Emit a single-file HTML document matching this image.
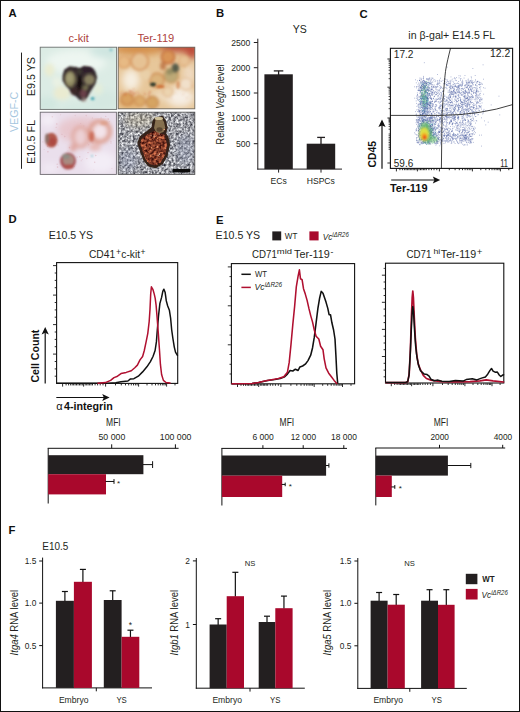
<!DOCTYPE html>
<html><head><meta charset="utf-8"><title>Figure</title>
<style>
html,body{margin:0;padding:0;background:#fff;}
body{width:520px;height:712px;overflow:hidden;}
svg{display:block;font-family:"Liberation Sans",sans-serif;}
</style></head><body>
<svg width="520" height="712" viewBox="0 0 520 712">
<defs>
<filter id="fC" x="-20%" y="-20%" width="140%" height="140%"><feGaussianBlur stdDeviation="0.8"/></filter>
<filter id="b05" x="-10%" y="-10%" width="120%" height="120%"><feGaussianBlur stdDeviation="0.5"/></filter>
<filter id="b07" x="-10%" y="-10%" width="120%" height="120%"><feGaussianBlur stdDeviation="0.7"/></filter>
<filter id="b1" x="-10%" y="-10%" width="120%" height="120%"><feGaussianBlur stdDeviation="1"/></filter>
<filter id="b12" x="-10%" y="-10%" width="120%" height="120%"><feGaussianBlur stdDeviation="1.1"/></filter>
<filter id="b18" x="-10%" y="-10%" width="120%" height="120%"><feGaussianBlur stdDeviation="1.7"/></filter>
<filter id="b15" x="-10%" y="-10%" width="120%" height="120%"><feGaussianBlur stdDeviation="1.5"/></filter>
<filter id="b2" x="-10%" y="-10%" width="120%" height="120%"><feGaussianBlur stdDeviation="2"/></filter>
<filter id="b3" x="-20%" y="-20%" width="140%" height="140%"><feGaussianBlur stdDeviation="3.5"/></filter>
<filter id="fN" x="0" y="0" width="100%" height="100%" color-interpolation-filters="sRGB">
<feTurbulence type="fractalNoise" baseFrequency="0.42" numOctaves="2" seed="4"/>
<feColorMatrix type="matrix" values="1.3 0 0 0 -0.03  1.3 0 0 0 -0.025  1.25 0 0 0 0.025  0 0 0 0 1"/>
<feGaussianBlur stdDeviation="0.35"/>
</filter>
<filter id="fR" x="0" y="0" width="100%" height="100%" color-interpolation-filters="sRGB">
<feTurbulence type="fractalNoise" baseFrequency="0.38" numOctaves="2" seed="12" result="t"/>
<feColorMatrix in="t" type="matrix" values="1.15 0 0 0 -0.06  0.75 0 0 0 -0.14  0.5 0 0 0 -0.09  0 0 0 0 1" result="c"/>
<feComposite in="c" in2="SourceGraphic" operator="in" result="m"/>
<feGaussianBlur in="m" stdDeviation="0.45"/>
</filter>
<clipPath id="c1"><rect x="40" y="47" width="76.8" height="62.6"/></clipPath>
<clipPath id="c2"><rect x="118" y="47" width="77" height="62"/></clipPath>
<clipPath id="c3"><rect x="40" y="112" width="76.6" height="62.6"/></clipPath>
<clipPath id="c4"><rect x="118" y="112" width="77" height="62.6"/></clipPath>
</defs>

<rect x="0" y="0" width="520" height="712" fill="#fff"/>
<g fill="#231f20">
<text x="8.6" y="17.4" font-size="11.3" font-weight="bold" fill="#111" >A</text>
<text x="215.9" y="17.4" font-size="11.3" font-weight="bold" fill="#111" >B</text>
<text x="359.6" y="17.5" font-size="11.3" font-weight="bold" fill="#111" >C</text>
<text x="8.6" y="223.0" font-size="11.3" font-weight="bold" fill="#111" >D</text>
<text x="216.0" y="223.5" font-size="11.3" font-weight="bold" fill="#111" >E</text>
<text x="8.6" y="534.0" font-size="11.3" font-weight="bold" fill="#111" >F</text>
<text x="68.6" y="42.4" font-size="10.5" fill="#ae4340" textLength="20.2" lengthAdjust="spacingAndGlyphs" >c-kit</text>
<text x="137.4" y="42.2" font-size="10.5" fill="#ae4340" textLength="36.9" lengthAdjust="spacingAndGlyphs" >Ter-119</text>
<text transform="translate(17.8 132.0) rotate(-90)" font-size="10.8" fill="#a5c6de" textLength="40.2" lengthAdjust="spacingAndGlyphs">VEGF-C</text>
<text transform="translate(35.0 96.2) rotate(-90)" font-size="10.8" textLength="39.2" lengthAdjust="spacingAndGlyphs">E9.5 YS</text>
<text transform="translate(35.0 163.9) rotate(-90)" font-size="10.8" textLength="44" lengthAdjust="spacingAndGlyphs">E10.5 FL</text>
<line x1="21.5" y1="52.6" x2="21.5" y2="168.8" stroke="#222" stroke-width="1" />
<g clip-path="url(#c1)"><rect x="39" y="46" width="79" height="65" fill="#dcece5"/><g filter="url(#b3)"><ellipse cx="76" cy="62" rx="30" ry="12" fill="#f0f7f2" opacity=".9"/><ellipse cx="104" cy="52" rx="14" ry="6" fill="#cbe4df" opacity=".8"/><ellipse cx="46" cy="104" rx="12" ry="7" fill="#cfe6de" opacity=".85"/><ellipse cx="105" cy="100" rx="14" ry="10" fill="#d3e8e1" opacity=".85"/><ellipse cx="80" cy="108" rx="20" ry="5" fill="#d3e8e1" opacity=".8"/></g><g filter="url(#b2)"><ellipse cx="49.5" cy="70" rx="5" ry="6.5" fill="#ecedcf" opacity=".9"/><ellipse cx="62" cy="93" rx="8.5" ry="7" fill="#ebebd0" opacity=".95"/><ellipse cx="57" cy="82" rx="5" ry="5" fill="#eef3e4" opacity=".8"/><ellipse cx="98" cy="89" rx="5" ry="6" fill="#e6edd8" opacity=".8"/></g><g filter="url(#b12)"><path d="M63.2 75.5 L64.8 70 L69.5 66.9 L75.9 67.5 L79.8 69 L83.7 66.7 L90 67.5 L94.8 71.6 L96.4 77.1 L94.8 83.4 L92.4 87.4 L90 91.3 L86.9 96.8 L83.7 100.2 L79.8 99.4 L75.1 94.7 L71.1 90.7 L66.4 85.2 L63.2 80.3 Z" fill="#33272a" stroke="#33272a" stroke-width="1.2" stroke-linejoin="round"/></g><g filter="url(#b18)"><ellipse cx="70.2" cy="79.0" rx="5.6" ry="8.2" fill="#8d875f"/><ellipse cx="69.4" cy="78" rx="3.4" ry="4.4" fill="#a39d74"/><ellipse cx="89.4" cy="79.6" rx="5.6" ry="5.4" fill="#888060"/><ellipse cx="87.6" cy="70.2" rx="6" ry="2.6" fill="#2e1c2a"/><ellipse cx="79.4" cy="71.6" rx="2.4" ry="2.6" fill="#3f3a30"/><ellipse cx="79.6" cy="84" rx="2.6" ry="9" fill="#120e0e"/><ellipse cx="74.6" cy="91" rx="4" ry="4" fill="#3a2528"/><ellipse cx="83.4" cy="93.6" rx="3.6" ry="4.4" fill="#6a4048"/><ellipse cx="85.6" cy="87.6" rx="3" ry="2.6" fill="#74704f"/><ellipse cx="84" cy="100" rx="2.6" ry="1.8" fill="#b8a49c" opacity=".8"/></g><g filter="url(#b1)"><ellipse cx="92.6" cy="98.6" rx="1.9" ry="1.7" fill="#43a3ae"/><ellipse cx="111" cy="50" rx="1.5" ry="1.2" fill="#7cc0c4"/></g></g>
<rect x="40.2" y="47.2" width="76.4" height="62.2" fill="none" stroke="#6e7270" stroke-width="0.9"/>
<g clip-path="url(#c2)"><rect x="117" y="46" width="80" height="65" fill="#e7c79a"/><g filter="url(#b3)"><ellipse cx="178" cy="46" rx="24" ry="6" fill="#b84a36"/><ellipse cx="192" cy="51" rx="7" ry="8" fill="#bd4c3a"/><ellipse cx="138" cy="49" rx="26" ry="6" fill="#d48e4a"/><ellipse cx="131" cy="80" rx="9" ry="11" fill="#f6eee0"/><ellipse cx="180" cy="97" rx="14" ry="10" fill="#f6eee4"/><ellipse cx="189" cy="74" rx="5" ry="10" fill="#f1dfca"/><ellipse cx="130" cy="102" rx="12" ry="6" fill="#dca662"/><ellipse cx="160" cy="96" rx="8" ry="5" fill="#efdcc0"/></g><g filter="url(#b15)"><circle cx="139.7" cy="61.4" r="8.6" fill="#e6c294" stroke="#d48e52" stroke-width="1.6"/><circle cx="124" cy="62" r="6" fill="#e7ba84" stroke="#d9975c" stroke-width="1.2"/><circle cx="168" cy="57" r="6.6" fill="#d99456" stroke="#c36c3a" stroke-width="1.6"/><circle cx="157" cy="80.3" r="7" fill="#dcb47c" stroke="#cc864a" stroke-width="1.4"/><circle cx="171.2" cy="75.6" r="7.2" fill="#bda976" stroke="#c4935a" stroke-width="1.1"/><circle cx="152.3" cy="102.4" r="6" fill="#d6a462" stroke="#c4844a" stroke-width="1.3"/><circle cx="146" cy="75" r="5" fill="#ead0aa" opacity=".9"/><circle cx="184" cy="61" r="5.4" fill="#e7c296" stroke="#d9a06a" stroke-width="1"/><circle cx="186" cy="84" r="6" fill="#f1e0ca" stroke="#e0b48a" stroke-width="1"/><circle cx="127" cy="99" r="6" fill="#d9a260" stroke="#c67f48" stroke-width="1.2"/><circle cx="140" cy="101" r="5" fill="#dcaa6a" stroke="#c98548" stroke-width="1.1"/><circle cx="168" cy="92" r="5" fill="#ecd4b0" stroke="#dcaa78" stroke-width="1"/><ellipse cx="175.4" cy="68" rx="3.8" ry="4.8" fill="#565b48"/><ellipse cx="169.6" cy="71.6" rx="3.2" ry="3.2" fill="#958d62"/><ellipse cx="163" cy="66" rx="3" ry="4" fill="#bd7444" opacity=".85"/></g><g filter="url(#b1)"><ellipse cx="153" cy="84.4" rx="3" ry="1.8" fill="#2b382c"/><ellipse cx="160.5" cy="86.4" rx="4" ry="1.5" fill="#cf7038"/><ellipse cx="178" cy="85" rx="1.5" ry="4" fill="#d38a58" opacity=".8"/><circle cx="133.6" cy="89.4" r="0.7" fill="#cf6238" opacity="0.63"/><circle cx="137.6" cy="92.2" r="0.6" fill="#cf6238" opacity="0.63"/><circle cx="138.9" cy="94.3" r="0.7" fill="#cf6238" opacity="0.44"/><circle cx="144.3" cy="93.1" r="0.8" fill="#cf6238" opacity="0.42"/><circle cx="149.5" cy="97.1" r="0.8" fill="#cf6238" opacity="0.47"/><circle cx="120.5" cy="93.3" r="0.8" fill="#cf6238" opacity="0.43"/><circle cx="125.7" cy="94.0" r="0.7" fill="#cf6238" opacity="0.60"/><circle cx="145.3" cy="94.5" r="0.8" fill="#cf6238" opacity="0.69"/><circle cx="135.0" cy="92.7" r="0.6" fill="#cf6238" opacity="0.85"/><circle cx="149.9" cy="91.9" r="0.9" fill="#cf6238" opacity="0.72"/><circle cx="129.5" cy="94.2" r="0.5" fill="#cf6238" opacity="0.74"/><circle cx="132.0" cy="95.8" r="0.9" fill="#cf6238" opacity="0.57"/><circle cx="148.7" cy="94.0" r="0.6" fill="#cf6238" opacity="0.81"/><circle cx="134.1" cy="93.9" r="1.0" fill="#cf6238" opacity="0.58"/><circle cx="122.2" cy="91.4" r="0.6" fill="#cf6238" opacity="0.44"/><circle cx="130.0" cy="91.2" r="1.0" fill="#cf6238" opacity="0.74"/><circle cx="123.5" cy="94.0" r="0.5" fill="#cf6238" opacity="0.76"/><circle cx="125.3" cy="95.0" r="0.8" fill="#cf6238" opacity="0.60"/><circle cx="125.7" cy="93.9" r="0.8" fill="#cf6238" opacity="0.45"/><circle cx="132.6" cy="92.8" r="0.6" fill="#cf6238" opacity="0.52"/><circle cx="149.1" cy="94.6" r="0.9" fill="#cf6238" opacity="0.49"/><circle cx="131.8" cy="92.2" r="0.9" fill="#cf6238" opacity="0.69"/><circle cx="172.3" cy="99.6" r="0.5" fill="#d78a5a" opacity="0.40"/><circle cx="187.8" cy="73.2" r="0.5" fill="#d78a5a" opacity="0.33"/><circle cx="172.1" cy="83.3" r="0.5" fill="#d78a5a" opacity="0.54"/><circle cx="178.5" cy="78.1" r="0.8" fill="#d78a5a" opacity="0.49"/><circle cx="183.2" cy="94.7" r="0.5" fill="#d78a5a" opacity="0.36"/><circle cx="190.9" cy="92.7" r="0.5" fill="#d78a5a" opacity="0.38"/><circle cx="187.0" cy="97.6" r="0.5" fill="#d78a5a" opacity="0.68"/><circle cx="190.3" cy="84.1" r="0.6" fill="#d78a5a" opacity="0.34"/><circle cx="170.9" cy="98.5" r="0.5" fill="#d78a5a" opacity="0.58"/><circle cx="175.9" cy="92.9" r="0.6" fill="#d78a5a" opacity="0.42"/><circle cx="174.0" cy="88.8" r="0.4" fill="#d78a5a" opacity="0.39"/><circle cx="182.9" cy="94.1" r="0.6" fill="#d78a5a" opacity="0.41"/><circle cx="191.1" cy="68.2" r="0.4" fill="#d78a5a" opacity="0.41"/><circle cx="180.3" cy="62.4" r="0.5" fill="#d78a5a" opacity="0.45"/><circle cx="183.2" cy="65.3" r="0.5" fill="#d78a5a" opacity="0.66"/><circle cx="192.6" cy="86.3" r="0.7" fill="#d78a5a" opacity="0.53"/><circle cx="173.2" cy="61.4" r="0.4" fill="#d78a5a" opacity="0.66"/><circle cx="186.1" cy="98.5" r="0.4" fill="#d78a5a" opacity="0.55"/></g></g>
<rect x="118.2" y="47.2" width="76.6" height="61.6" fill="none" stroke="#6f6a62" stroke-width="0.9"/>
<g clip-path="url(#c3)"><rect x="39" y="111" width="79" height="65" fill="#eadfec"/><g filter="url(#b3)"><ellipse cx="82" cy="130" rx="25" ry="13" fill="#e8c6cc" opacity=".95"/><ellipse cx="100" cy="162" rx="16" ry="11" fill="#f3edf6"/><ellipse cx="48" cy="120" rx="8" ry="6" fill="#f4eff7"/><ellipse cx="50" cy="168" rx="8" ry="5" fill="#f1eaf4"/></g><circle cx="77.2" cy="157.1" r="0.5" fill="#d9a5b0" opacity="0.55"/><circle cx="47.5" cy="146.2" r="0.7" fill="#d9a5b0" opacity="0.52"/><circle cx="95.8" cy="155.5" r="0.7" fill="#d9a5b0" opacity="0.52"/><circle cx="67.7" cy="154.4" r="0.8" fill="#d9a5b0" opacity="0.51"/><circle cx="72.5" cy="160.6" r="0.7" fill="#d9a5b0" opacity="0.42"/><circle cx="87.6" cy="136.6" r="0.6" fill="#d9a5b0" opacity="0.43"/><circle cx="47.9" cy="151.7" r="0.8" fill="#d9a5b0" opacity="0.51"/><circle cx="95.2" cy="136.9" r="0.7" fill="#d9a5b0" opacity="0.42"/><circle cx="74.2" cy="163.5" r="0.4" fill="#d9a5b0" opacity="0.48"/><circle cx="44.2" cy="149.5" r="0.6" fill="#d9a5b0" opacity="0.32"/><circle cx="93.0" cy="143.3" r="0.6" fill="#d9a5b0" opacity="0.53"/><circle cx="60.7" cy="114.7" r="0.5" fill="#d9a5b0" opacity="0.45"/><circle cx="56.8" cy="124.0" r="0.8" fill="#d9a5b0" opacity="0.45"/><circle cx="74.3" cy="166.6" r="0.5" fill="#d9a5b0" opacity="0.45"/><circle cx="56.5" cy="139.4" r="0.7" fill="#d9a5b0" opacity="0.52"/><circle cx="106.3" cy="136.7" r="0.6" fill="#d9a5b0" opacity="0.34"/><circle cx="51.9" cy="143.3" r="0.7" fill="#d9a5b0" opacity="0.50"/><circle cx="93.9" cy="170.1" r="0.5" fill="#d9a5b0" opacity="0.30"/><circle cx="74.9" cy="130.2" r="0.5" fill="#d9a5b0" opacity="0.37"/><circle cx="87.7" cy="143.1" r="0.5" fill="#d9a5b0" opacity="0.50"/><circle cx="113.7" cy="140.7" r="0.4" fill="#d9a5b0" opacity="0.26"/><circle cx="105.7" cy="116.4" r="0.7" fill="#d9a5b0" opacity="0.42"/><circle cx="64.6" cy="160.7" r="0.4" fill="#d9a5b0" opacity="0.29"/><circle cx="75.2" cy="115.5" r="0.7" fill="#d9a5b0" opacity="0.32"/><circle cx="52.3" cy="116.8" r="0.7" fill="#d9a5b0" opacity="0.38"/><circle cx="88.0" cy="152.6" r="0.7" fill="#d9a5b0" opacity="0.54"/><circle cx="92.0" cy="125.8" r="0.6" fill="#d9a5b0" opacity="0.30"/><circle cx="42.8" cy="141.9" r="0.7" fill="#d9a5b0" opacity="0.30"/><circle cx="61.9" cy="134.4" r="0.7" fill="#d9a5b0" opacity="0.41"/><circle cx="86.9" cy="158.6" r="0.6" fill="#d9a5b0" opacity="0.49"/><circle cx="108.2" cy="119.1" r="0.8" fill="#d9a5b0" opacity="0.47"/><circle cx="51.5" cy="140.8" r="0.7" fill="#d9a5b0" opacity="0.52"/><circle cx="69.5" cy="147.6" r="0.8" fill="#d9a5b0" opacity="0.49"/><circle cx="110.9" cy="141.4" r="0.7" fill="#d9a5b0" opacity="0.31"/><circle cx="94.7" cy="162.3" r="0.7" fill="#d9a5b0" opacity="0.47"/><circle cx="57.6" cy="167.1" r="0.8" fill="#d9a5b0" opacity="0.54"/><circle cx="81.2" cy="160.7" r="0.5" fill="#d9a5b0" opacity="0.52"/><circle cx="104.5" cy="134.6" r="0.4" fill="#d9a5b0" opacity="0.38"/><circle cx="82.2" cy="159.3" r="0.6" fill="#d9a5b0" opacity="0.26"/><circle cx="101.1" cy="117.8" r="0.7" fill="#d9a5b0" opacity="0.30"/><circle cx="66.5" cy="160.5" r="0.5" fill="#d9a5b0" opacity="0.29"/><circle cx="79.7" cy="156.7" r="0.7" fill="#d9a5b0" opacity="0.46"/><circle cx="111.0" cy="143.1" r="0.8" fill="#d9a5b0" opacity="0.28"/><circle cx="58.2" cy="145.1" r="0.5" fill="#d9a5b0" opacity="0.47"/><circle cx="88.6" cy="144.8" r="0.7" fill="#d9a5b0" opacity="0.42"/><circle cx="64.8" cy="136.5" r="0.7" fill="#d9a5b0" opacity="0.52"/><circle cx="57.2" cy="164.2" r="0.8" fill="#d9a5b0" opacity="0.41"/><circle cx="83.8" cy="125.9" r="0.6" fill="#d9a5b0" opacity="0.40"/><circle cx="86.2" cy="115.6" r="0.8" fill="#d9a5b0" opacity="0.40"/><circle cx="71.2" cy="161.3" r="0.6" fill="#d9a5b0" opacity="0.40"/><circle cx="92.4" cy="117.9" r="0.6" fill="#d9a5b0" opacity="0.37"/><circle cx="111.9" cy="168.5" r="0.5" fill="#d9a5b0" opacity="0.39"/><circle cx="51.3" cy="139.6" r="0.7" fill="#d9a5b0" opacity="0.52"/><circle cx="76.8" cy="132.7" r="0.5" fill="#d9a5b0" opacity="0.44"/><circle cx="109.5" cy="121.6" r="0.7" fill="#d9a5b0" opacity="0.26"/><circle cx="56.2" cy="127.4" r="0.7" fill="#d9a5b0" opacity="0.35"/><circle cx="67.9" cy="150.6" r="0.4" fill="#d9a5b0" opacity="0.47"/><circle cx="51.0" cy="144.1" r="0.5" fill="#d9a5b0" opacity="0.31"/><circle cx="80.7" cy="139.8" r="0.6" fill="#d9a5b0" opacity="0.37"/><circle cx="80.6" cy="123.4" r="0.5" fill="#d9a5b0" opacity="0.44"/><g filter="url(#b2)"><ellipse cx="100" cy="131.5" rx="9.6" ry="10" fill="#f3e4ea" stroke="#dc9a88" stroke-width="4.2"/><ellipse cx="80.5" cy="137" rx="7.5" ry="10" fill="#ecd0d4" stroke="#dfa49a" stroke-width="3.2"/><ellipse cx="95" cy="147" rx="6" ry="4" fill="#e7b8b2" opacity=".9"/><ellipse cx="73" cy="148" rx="3.4" ry="4" fill="#dea39c" opacity=".9"/></g><g filter="url(#b15)"><ellipse cx="91.6" cy="136.5" rx="2.4" ry="5.6" fill="#cb6a56"/><ellipse cx="104" cy="123" rx="4" ry="1.6" fill="#dc9a80"/></g><g filter="url(#b1)"><ellipse cx="51.4" cy="140.2" rx="6.2" ry="7.4" fill="#b25a4e"/><ellipse cx="47.0" cy="138.6" rx="2.0" ry="5" fill="#8f7068"/><ellipse cx="52.6" cy="141.6" rx="3.4" ry="4" fill="#ad4a42"/><ellipse cx="68" cy="161" rx="8" ry="8.6" fill="#a8545a"/><ellipse cx="68.4" cy="160" rx="5.6" ry="5.8" fill="#a98a80"/><ellipse cx="66" cy="156.4" rx="3.8" ry="2.6" fill="#918c84"/><ellipse cx="69" cy="166.4" rx="5" ry="2.2" fill="#b0524e"/><circle cx="92" cy="156" r="1" fill="#7cc0c8"/></g></g>
<rect x="40.2" y="112.2" width="76.2" height="62.2" fill="none" stroke="#6e6a70" stroke-width="0.9"/>
<g clip-path="url(#c4)"><rect x="117" y="111" width="80" height="65" fill="#9ea3a8"/><rect x="117" y="111" width="80" height="65" filter="url(#fN)"/><g filter="url(#b3)"><ellipse cx="140" cy="120" rx="16" ry="8" fill="#c9b98f" opacity=".35"/><ellipse cx="185" cy="150" rx="9" ry="16" fill="#8f9bb8" opacity=".35"/><ellipse cx="128" cy="160" rx="10" ry="12" fill="#8f9bb8" opacity=".3"/></g><g transform="translate(-1 0)"><g filter="url(#b07)"><path d="M155.4 118.7 L163.3 116.3 L166.5 121 L168 127.4 L166.5 133.7 L168.8 136.8 L170.4 144.7 L168 155.7 L163.3 163.6 L157 167.6 L149.9 166 L145.2 160.5 L142 152.6 L138.9 143.1 L141.2 136.8 L147.5 132.1 L153.1 127.4 L153.9 121.8 Z" fill="#35241a" stroke="#35241a" stroke-width="1.2" stroke-linejoin="round"/><path d="M156.5 120 L162.6 118 L165 122 L166.2 127.4 L164.5 132 L158 134 L155 128 Z" fill="#86704f"/><ellipse cx="159.8" cy="118.4" rx="4.2" ry="1.7" fill="#cdbf98"/><ellipse cx="160.5" cy="129.5" rx="3" ry="2.2" fill="#5a4630"/></g><path d="M148 134.4 L155.4 131 L161 133.4 L165.6 134.8 L168.4 144.7 L166.2 155 L161.8 162.4 L156.7 165.6 L150.8 164.2 L146.6 159.4 L143.4 151 L141 143.2 L143 138.2 Z" fill="#a2432a" filter="url(#fR)"/><g filter="url(#b05)"><circle cx="150.7" cy="142.5" r="0.7" fill="#e08050"/><circle cx="152.7" cy="147.8" r="0.8" fill="#e08050"/><circle cx="160.3" cy="134.0" r="0.5" fill="#f3d6bc"/><circle cx="158.6" cy="146.7" r="0.7" fill="#e9a27a"/><circle cx="157.9" cy="147.2" r="0.5" fill="#e08050"/><circle cx="160.6" cy="154.2" r="0.6" fill="#f3d6bc"/><circle cx="146.5" cy="146.6" r="0.5" fill="#e08050"/><circle cx="155.1" cy="148.6" r="0.5" fill="#e08050"/><circle cx="148.5" cy="161.6" r="0.5" fill="#e08050"/><circle cx="145.4" cy="149.5" r="0.6" fill="#e08050"/><circle cx="160.9" cy="137.5" r="0.6" fill="#e9a27a"/><circle cx="162.9" cy="152.4" r="0.6" fill="#e08050"/><circle cx="151.6" cy="150.6" r="0.4" fill="#e9a27a"/><circle cx="165.3" cy="129.5" r="0.8" fill="#e9a27a"/><circle cx="152.7" cy="147.9" r="0.7" fill="#e9a27a"/><circle cx="156.0" cy="142.9" r="0.6" fill="#e08050"/><circle cx="153.0" cy="154.4" r="0.5" fill="#e08050"/><circle cx="152.0" cy="135.3" r="0.5" fill="#f3d6bc"/><circle cx="151.8" cy="155.9" r="0.8" fill="#e08050"/><circle cx="159.2" cy="158.3" r="0.4" fill="#e9a27a"/><circle cx="158.5" cy="138.2" r="0.7" fill="#e08050"/><circle cx="162.7" cy="146.2" r="0.5" fill="#e08050"/><circle cx="166.3" cy="148.4" r="0.5" fill="#e9a27a"/><circle cx="155.1" cy="136.1" r="0.7" fill="#f3d6bc"/><circle cx="159.1" cy="155.3" r="0.6" fill="#f3d6bc"/><circle cx="156.6" cy="136.5" r="0.6" fill="#e08050"/></g></g><rect x="172.8" y="169.0" width="17.4" height="3.4" fill="#0c0c0c"/></g>
<rect x="118.2" y="112.2" width="76.6" height="62.2" fill="none" stroke="#555" stroke-width="0.9"/>
<text x="299.7" y="32.6" font-size="10.5" text-anchor="middle" >YS</text>
<line x1="257.8" y1="38.7" x2="257.8" y2="169.6" stroke="#231f20" stroke-width="1" />
<line x1="257.3" y1="169.1" x2="342" y2="169.1" stroke="#231f20" stroke-width="1" />
<line x1="253.8" y1="42.5" x2="257.8" y2="42.5" stroke="#231f20" stroke-width="1" />
<text x="250.3" y="45.6" font-size="8.6" text-anchor="end" >2500</text>
<line x1="253.8" y1="67.7" x2="257.8" y2="67.7" stroke="#231f20" stroke-width="1" />
<text x="250.3" y="70.8" font-size="8.6" text-anchor="end" >2000</text>
<line x1="253.8" y1="93.0" x2="257.8" y2="93.0" stroke="#231f20" stroke-width="1" />
<text x="250.3" y="96.1" font-size="8.6" text-anchor="end" >1500</text>
<line x1="253.8" y1="118.3" x2="257.8" y2="118.3" stroke="#231f20" stroke-width="1" />
<text x="250.3" y="121.39999999999999" font-size="8.6" text-anchor="end" >1000</text>
<line x1="253.8" y1="143.7" x2="257.8" y2="143.7" stroke="#231f20" stroke-width="1" />
<text x="250.3" y="146.79999999999998" font-size="8.6" text-anchor="end" >500</text>
<line x1="278.6" y1="169.1" x2="278.6" y2="172.6" stroke="#231f20" stroke-width="1" />
<line x1="321.0" y1="169.1" x2="321.0" y2="172.6" stroke="#231f20" stroke-width="1" />
<rect x="264.40" y="74.30" width="28.40" height="94.80" fill="#231f20" />
<line x1="278.6" y1="70.9" x2="278.6" y2="75" stroke="#231f20" stroke-width="1.3" />
<line x1="273.8" y1="70.9" x2="283.3" y2="70.9" stroke="#231f20" stroke-width="1.3" />
<rect x="306.70" y="143.70" width="28.50" height="25.40" fill="#231f20" />
<line x1="321.0" y1="137.4" x2="321.0" y2="144" stroke="#231f20" stroke-width="1.3" />
<line x1="317.2" y1="137.4" x2="325" y2="137.4" stroke="#231f20" stroke-width="1.3" />
<text x="278.7" y="183.6" font-size="8.6" text-anchor="middle" >ECs</text>
<text x="320.8" y="183.6" font-size="8.6" text-anchor="middle" >HSPCs</text>
<text transform="translate(224.3 144.4) rotate(-90)" font-size="10" textLength="80" lengthAdjust="spacingAndGlyphs">Relative <tspan font-style="italic">Vegfc</tspan> level</text>
<text x="408.3" y="38.6" font-size="10.5" textLength="86.7" lengthAdjust="spacingAndGlyphs" >in β-gal+ E14.5 FL</text>
<path d="M418.2 100.2h0.75M417.2 98.8h0.75M444.2 78.3h0.75M443.6 113.9h0.75M423.4 80.5h0.75M471.8 83.5h0.75M459.0 92.5h0.75M462.0 95.1h0.75M455.2 96.3h0.75M470.2 107.9h0.75M421.5 94.7h0.75M423.9 98.0h0.75M461.1 110.9h0.75M455.8 102.3h0.75M422.3 86.6h0.75M475.2 88.1h0.75M423.9 83.3h0.75M429.8 97.8h0.75M462.7 99.2h0.75M441.3 93.8h0.75M458.7 77.9h0.75M428.0 82.6h0.75M420.3 92.1h0.75M476.0 103.9h0.75M431.2 91.3h0.75M446.6 97.7h0.75M420.4 91.1h0.75M472.7 82.6h0.75M481.5 99.8h0.75M431.8 92.2h0.75M471.9 109.8h0.75M450.3 91.7h0.75M439.3 85.4h0.75M427.2 84.6h0.75M477.8 114.5h0.75M460.0 112.6h0.75M467.0 97.5h0.75M481.2 109.1h0.75M452.5 81.2h0.75M472.5 84.9h0.75M431.7 94.7h0.75M478.5 91.6h0.75M425.4 97.3h0.75M453.1 90.3h0.75M453.0 111.9h0.75M453.3 86.7h0.75M468.6 98.9h0.75M457.1 98.8h0.75M462.9 96.3h0.75M422.9 80.7h0.75M418.2 86.3h0.75M424.1 108.7h0.75M424.6 95.3h0.75M437.4 84.2h0.75M457.9 99.1h0.75M420.5 87.5h0.75M469.1 87.7h0.75M454.1 107.9h0.75M430.2 80.1h0.75M435.0 110.7h0.75M449.0 83.4h0.75M414.3 86.8h0.75M465.8 100.9h0.75M447.2 118.9h0.75M472.0 95.3h0.75M473.1 93.5h0.75M472.9 108.2h0.75M442.1 91.3h0.75M431.4 82.7h0.75M433.3 86.4h0.75M446.1 82.4h0.75M435.3 91.8h0.75M440.5 97.3h0.75M427.5 98.7h0.75M429.8 102.5h0.75M467.0 105.9h0.75M476.3 93.3h0.75M462.2 107.6h0.75M420.6 114.3h0.75M458.2 104.4h0.75M466.9 98.6h0.75M465.5 84.6h0.75M457.4 105.2h0.75M423.6 86.9h0.75M434.9 101.7h0.75M462.8 106.8h0.75M450.2 96.8h0.75M421.5 117.0h0.75M445.4 87.6h0.75M423.2 99.6h0.75M422.5 113.6h0.75M476.9 108.1h0.75M477.6 97.8h0.75M434.7 81.6h0.75M435.8 114.5h0.75M467.1 114.4h0.75M433.9 92.5h0.75M443.8 87.9h0.75M420.3 114.2h0.75M480.4 86.7h0.75M449.8 83.9h0.75M452.5 108.8h0.75M465.7 96.2h0.75M459.4 88.5h0.75M434.7 101.2h0.75M425.0 82.6h0.75M478.2 98.4h0.75M423.1 84.0h0.75M467.0 94.4h0.75M450.7 92.7h0.75M422.1 98.7h0.75M475.1 85.2h0.75M430.9 93.8h0.75M477.5 97.2h0.75M430.9 80.1h0.75M465.0 105.4h0.75M445.9 100.9h0.75M459.5 89.3h0.75M455.0 93.2h0.75M476.6 97.3h0.75M461.6 94.7h0.75M462.1 84.3h0.75M466.2 98.7h0.75M426.5 85.5h0.75M423.2 77.4h0.75M440.3 92.6h0.75M472.2 113.6h0.75M479.2 84.1h0.75M471.5 111.0h0.75M457.4 87.3h0.75M435.8 88.0h0.75M440.8 86.8h0.75M468.6 103.5h0.75M430.8 78.0h0.75M464.1 96.0h0.75M421.7 114.5h0.75M427.3 86.6h0.75M475.4 96.1h0.75M455.9 104.1h0.75M439.5 81.6h0.75M461.8 83.7h0.75M427.6 112.4h0.75M452.6 105.0h0.75M424.8 107.7h0.75M435.5 101.6h0.75M443.5 113.6h0.75M476.6 96.7h0.75M439.7 98.7h0.75M420.8 98.1h0.75M424.5 111.9h0.75M426.2 85.3h0.75M450.3 93.0h0.75M415.7 114.4h0.75M456.2 100.9h0.75M443.7 106.0h0.75M469.2 96.5h0.75M447.1 80.0h0.75M424.9 112.1h0.75M424.4 117.1h0.75M471.7 81.7h0.75M479.2 84.8h0.75M449.4 90.0h0.75M461.9 117.1h0.75M441.4 112.5h0.75M468.1 95.8h0.75M455.2 106.2h0.75M457.4 95.3h0.75M477.5 81.2h0.75M460.0 76.0h0.75M429.1 102.4h0.75M427.7 104.3h0.75M475.7 111.8h0.75M453.5 91.5h0.75M430.9 117.5h0.75M451.3 94.1h0.75M417.2 111.6h0.75M427.4 103.6h0.75M459.2 113.2h0.75M435.3 89.1h0.75M446.5 109.9h0.75M429.3 79.9h0.75M432.2 101.0h0.75M469.8 99.6h0.75M458.4 107.6h0.75M463.2 115.3h0.75M465.2 101.8h0.75M428.3 104.3h0.75M478.6 81.8h0.75M423.2 76.4h0.75M462.9 104.8h0.75M427.8 80.3h0.75M474.0 113.2h0.75M472.4 104.7h0.75M427.8 90.0h0.75M464.5 92.3h0.75M444.4 111.3h0.75M463.7 100.3h0.75M467.9 121.0h0.75M426.3 98.2h0.75M469.7 104.5h0.75M419.2 116.8h0.75M429.8 96.7h0.75M467.3 110.4h0.75M438.1 90.4h0.75M425.2 95.6h0.75M476.7 86.2h0.75M424.1 82.3h0.75M436.5 99.5h0.75M470.2 109.5h0.75M427.1 105.0h0.75M427.9 93.3h0.75M449.0 104.7h0.75M423.2 103.4h0.75M454.3 110.2h0.75M461.9 105.2h0.75M435.5 104.5h0.75M458.3 86.8h0.75M445.8 104.2h0.75M460.1 111.6h0.75M480.7 99.4h0.75M428.1 107.2h0.75M443.3 107.8h0.75M480.7 99.8h0.75M470.7 93.4h0.75M422.3 111.5h0.75M458.7 97.1h0.75M446.7 88.8h0.75M422.0 114.2h0.75M474.2 87.6h0.75M431.3 95.0h0.75M430.6 89.2h0.75M458.6 75.7h0.75M420.3 81.7h0.75M468.9 91.3h0.75M478.1 112.2h0.75M451.2 109.9h0.75M476.6 101.1h0.75M429.9 81.5h0.75M417.2 97.0h0.75M448.4 98.4h0.75M473.5 92.6h0.75M439.4 97.3h0.75M468.5 84.9h0.75M434.1 113.9h0.75M449.3 87.8h0.75M436.8 89.9h0.75M458.1 107.7h0.75M462.0 85.0h0.75M446.0 110.8h0.75M478.8 105.8h0.75M472.2 112.0h0.75M431.6 89.2h0.75M428.3 82.1h0.75M430.4 109.5h0.75M474.6 109.3h0.75M458.3 108.3h0.75M464.6 75.5h0.75M459.9 113.4h0.75M435.4 109.3h0.75M475.0 97.9h0.75M439.5 102.0h0.75M463.6 113.9h0.75M456.3 89.5h0.75M446.5 84.7h0.75M467.1 112.2h0.75M476.7 99.5h0.75M455.4 83.9h0.75M426.0 108.0h0.75M453.6 93.9h0.75M469.7 82.3h0.75M437.8 99.4h0.75M448.0 101.7h0.75M426.0 78.9h0.75M481.2 117.8h0.75M456.1 93.7h0.75M441.3 96.1h0.75M423.4 110.5h0.75M461.7 89.0h0.75M467.6 80.0h0.75M425.1 86.2h0.75M477.0 81.6h0.75M458.2 96.3h0.75M472.3 97.4h0.75M423.3 85.4h0.75M464.4 101.0h0.75M475.7 87.5h0.75M424.2 87.7h0.75M437.1 82.9h0.75M435.9 117.4h0.75M461.1 84.9h0.75M433.6 87.1h0.75M434.1 121.0h0.75M471.1 91.0h0.75M428.7 101.9h0.75M426.0 111.2h0.75M427.2 78.7h0.75M456.8 98.3h0.75M427.8 103.8h0.75M471.4 102.4h0.75M417.7 109.4h0.75M447.3 116.0h0.75M426.4 114.1h0.75M424.8 92.4h0.75M471.8 115.7h0.75M464.2 92.9h0.75M448.6 99.1h0.75M429.1 83.6h0.75M431.0 113.4h0.75M419.9 107.9h0.75M450.6 108.0h0.75M475.6 108.7h0.75M421.9 98.2h0.75M422.9 102.8h0.75M423.6 101.9h0.75M424.8 113.8h0.75M468.9 90.9h0.75M443.4 104.7h0.75M432.1 106.9h0.75M431.0 99.5h0.75M446.6 100.1h0.75M421.9 81.2h0.75M442.3 88.6h0.75M456.9 101.8h0.75M427.5 108.4h0.75M452.5 103.8h0.75M435.4 86.4h0.75M449.9 93.0h0.75M430.2 101.2h0.75M468.6 82.5h0.75M475.7 95.7h0.75M466.2 82.3h0.75M474.2 113.6h0.75M466.2 109.9h0.75M456.7 92.8h0.75M446.0 109.0h0.75M441.1 101.1h0.75M449.0 95.9h0.75M472.5 99.1h0.75M424.3 88.6h0.75M449.4 83.8h0.75M458.4 103.3h0.75M442.6 112.0h0.75M427.2 98.4h0.75M432.2 105.4h0.75M421.7 82.4h0.75M420.7 79.7h0.75M450.6 113.7h0.75M471.1 77.9h0.75M468.5 90.2h0.75M438.5 83.0h0.75M438.1 96.1h0.75M471.7 89.3h0.75M447.9 112.3h0.75M425.5 91.8h0.75M421.3 100.1h0.75M472.5 91.5h0.75M426.8 88.3h0.75M424.2 108.2h0.75M432.4 114.2h0.75M424.5 91.6h0.75M428.3 116.0h0.75M449.9 100.5h0.75M468.6 93.1h0.75M453.9 89.6h0.75M436.1 106.1h0.75M453.5 92.0h0.75M422.5 88.0h0.75M461.9 106.2h0.75M430.9 114.8h0.75M458.3 83.5h0.75M427.3 89.2h0.75M425.9 114.5h0.75M464.6 87.0h0.75M462.3 91.4h0.75M473.1 111.5h0.75M416.4 86.5h0.75M466.2 114.0h0.75M422.2 110.8h0.75M463.6 112.9h0.75M452.2 86.7h0.75M438.8 94.3h0.75M461.3 86.2h0.75M423.2 101.5h0.75M425.2 106.3h0.75M421.2 88.6h0.75M427.2 108.0h0.75M421.1 90.3h0.75M439.1 82.9h0.75M444.3 83.9h0.75M431.1 86.6h0.75M436.1 92.3h0.75M439.6 114.1h0.75M424.3 89.1h0.75M418.8 107.3h0.75M474.6 112.0h0.75M433.4 106.1h0.75M443.3 90.9h0.75M424.8 88.9h0.75M453.6 91.4h0.75M419.1 90.2h0.75M456.9 89.0h0.75M439.8 102.3h0.75M451.2 101.5h0.75M431.1 98.0h0.75M429.3 101.9h0.75M449.9 102.7h0.75M453.5 111.4h0.75M428.3 89.1h0.75M472.4 80.8h0.75M416.1 103.4h0.75M452.5 112.7h0.75M479.6 106.7h0.75M426.9 96.0h0.75M454.9 80.3h0.75M421.0 112.6h0.75M452.9 88.6h0.75M423.9 98.6h0.75M471.9 106.9h0.75M418.5 90.5h0.75M477.4 102.7h0.75M425.2 92.0h0.75M454.5 93.2h0.75M432.6 87.8h0.75M431.9 101.7h0.75M468.7 104.8h0.75M449.6 104.9h0.75M452.7 94.1h0.75M447.7 92.3h0.75M429.9 91.4h0.75M445.1 101.7h0.75M435.2 109.2h0.75M455.0 78.8h0.75M432.9 87.1h0.75M424.8 87.6h0.75M428.7 93.8h0.75M476.0 91.0h0.75M426.5 100.2h0.75M442.2 106.9h0.75M417.1 94.5h0.75M458.1 90.7h0.75M456.0 87.1h0.75M465.1 90.5h0.75M424.2 81.7h0.75M419.5 113.3h0.75M451.8 102.7h0.75M460.3 103.3h0.75M466.4 87.1h0.75M468.0 111.5h0.75M460.2 111.4h0.75M423.8 83.3h0.75M479.3 82.6h0.75M448.9 104.9h0.75M470.6 96.6h0.75M417.7 105.3h0.75M458.2 85.5h0.75M431.9 95.4h0.75M427.6 110.7h0.75M472.2 88.3h0.75M448.0 116.9h0.75M462.2 103.1h0.75M454.7 116.5h0.75M421.0 120.8h0.75M420.0 82.9h0.75M429.7 95.2h0.75M422.8 95.1h0.75M465.7 87.8h0.75M432.1 78.2h0.75M449.6 94.2h0.75M460.0 100.6h0.75M464.7 93.8h0.75M440.7 94.3h0.75M440.1 86.3h0.75M436.4 105.4h0.75M435.7 120.7h0.75M466.7 115.1h0.75M458.3 109.9h0.75M464.3 93.5h0.75M457.1 106.8h0.75M458.3 100.5h0.75M447.1 108.9h0.75M447.3 85.4h0.75M451.0 113.2h0.75M425.4 113.6h0.75M472.9 113.4h0.75M424.1 86.8h0.75M438.7 112.8h0.75M423.8 107.0h0.75M450.5 86.2h0.75M437.5 92.9h0.75M427.5 101.8h0.75M425.8 108.8h0.75M427.5 94.9h0.75M457.5 92.5h0.75M471.4 91.6h0.75M460.9 90.5h0.75M467.4 92.8h0.75M446.3 114.5h0.75M461.3 109.8h0.75M468.4 111.2h0.75M464.2 97.7h0.75M462.8 94.6h0.75M423.5 90.7h0.75M431.9 89.7h0.75M474.8 101.1h0.75M431.5 84.5h0.75M451.7 92.6h0.75M448.2 102.4h0.75M451.4 94.2h0.75M445.0 116.3h0.75M444.2 105.0h0.75M470.7 98.4h0.75M461.6 88.9h0.75M427.9 79.7h0.75M462.4 82.3h0.75M435.9 101.3h0.75M423.9 112.6h0.75M459.1 85.5h0.75M419.7 96.8h0.75M443.9 106.9h0.75M448.8 118.7h0.75M451.9 79.2h0.75M429.4 118.5h0.75M481.0 105.9h0.75M437.0 96.1h0.75M455.9 96.7h0.75M422.5 102.2h0.75M440.0 106.2h0.75M421.4 98.3h0.75M421.5 97.0h0.75M451.6 98.8h0.75M427.2 94.0h0.75M422.2 86.3h0.75M449.1 116.9h0.75M454.1 107.4h0.75M467.0 82.2h0.75M434.0 116.9h0.75M454.7 86.0h0.75M469.4 108.4h0.75M446.2 118.3h0.75M461.9 82.1h0.75M423.1 84.3h0.75M470.0 97.5h0.75M458.8 84.4h0.75M473.9 112.0h0.75M464.7 91.4h0.75M470.8 102.7h0.75M429.7 84.3h0.75M462.3 108.4h0.75M469.4 112.3h0.75M443.1 103.4h0.75M437.2 85.0h0.75M473.8 104.1h0.75M419.3 87.7h0.75M421.7 107.1h0.75M472.3 83.7h0.75M472.8 82.6h0.75M445.7 113.0h0.75M475.1 99.2h0.75M418.5 104.3h0.75M458.5 92.7h0.75M473.1 107.1h0.75M465.5 110.2h0.75M466.8 105.2h0.75M467.9 88.7h0.75M471.0 106.8h0.75M472.5 112.3h0.75M423.1 99.3h0.75M424.7 109.7h0.75M427.2 90.1h0.75M420.8 87.2h0.75M467.2 87.9h0.75M479.1 99.9h0.75M458.4 87.2h0.75M467.3 106.9h0.75M471.2 80.2h0.75M462.8 111.4h0.75M441.3 112.9h0.75M426.4 116.0h0.75M422.6 90.9h0.75M461.1 102.2h0.75M469.8 114.4h0.75M461.4 110.4h0.75M422.5 108.1h0.75M457.1 87.9h0.75M456.4 113.7h0.75M428.3 85.5h0.75M438.9 107.9h0.75M473.4 90.3h0.75M458.3 81.5h0.75M421.0 85.6h0.75M428.7 112.3h0.75M473.4 113.0h0.75M415.2 111.6h0.75M449.3 94.9h0.75M458.4 109.1h0.75M422.6 96.3h0.75M464.0 96.4h0.75M426.7 93.9h0.75M427.0 109.6h0.75M427.2 87.5h0.75M458.4 87.4h0.75M445.8 79.8h0.75M424.1 111.5h0.75M447.3 113.6h0.75M420.8 101.5h0.75M428.1 86.8h0.75M455.1 92.8h0.75M472.8 111.9h0.75M422.1 84.4h0.75M455.2 104.9h0.75M461.4 108.5h0.75M459.8 107.5h0.75M470.8 76.8h0.75M479.2 87.4h0.75M471.1 82.7h0.75M453.0 113.6h0.75M433.9 93.7h0.75M471.4 96.5h0.75M459.8 84.7h0.75M474.2 114.9h0.75M423.6 103.5h0.75M421.2 107.5h0.75M450.4 96.4h0.75M473.3 108.7h0.75M462.0 114.9h0.75M444.8 108.2h0.75M434.6 91.4h0.75M432.7 86.7h0.75M435.6 104.5h0.75M451.2 105.5h0.75M462.5 107.5h0.75M467.2 86.7h0.75M455.6 105.8h0.75M463.0 89.3h0.75M423.2 80.3h0.75M468.4 83.4h0.75M445.0 109.2h0.75M455.3 106.1h0.75M429.1 78.0h0.75M439.2 109.0h0.75M469.7 86.8h0.75M450.7 80.2h0.75M470.3 88.4h0.75M468.1 85.5h0.75M428.8 93.1h0.75M421.3 96.6h0.75M425.5 85.8h0.75M450.8 86.3h0.75M475.3 85.0h0.75M447.7 83.5h0.75M460.0 99.2h0.75M446.9 109.8h0.75M429.9 98.5h0.75M439.5 117.4h0.75M418.9 85.2h0.75M444.6 81.6h0.75M441.9 106.9h0.75M436.2 94.1h0.75M424.7 113.9h0.75M456.7 87.1h0.75M453.5 108.5h0.75M423.7 81.4h0.75M454.9 116.7h0.75M429.9 82.9h0.75M460.0 99.1h0.75M430.5 105.9h0.75M454.1 83.5h0.75M431.4 86.1h0.75M450.7 106.8h0.75M466.4 104.3h0.75M461.4 112.6h0.75M469.6 85.9h0.75M465.9 91.9h0.75M468.2 81.0h0.75M428.5 87.5h0.75M422.8 94.1h0.75M454.5 91.7h0.75M444.5 83.2h0.75M473.2 105.2h0.75M468.2 89.1h0.75M476.0 102.7h0.75M432.6 78.3h0.75M425.5 107.7h0.75M437.1 99.5h0.75M443.1 97.5h0.75M419.6 104.3h0.75M437.6 98.1h0.75M479.9 101.3h0.75M424.1 107.6h0.75M426.8 108.3h0.75M470.0 85.9h0.75M460.8 101.6h0.75M426.9 102.4h0.75M458.6 86.3h0.75M457.3 117.4h0.75M435.4 106.1h0.75M424.3 85.6h0.75M470.2 89.6h0.75M446.2 84.3h0.75M449.5 99.5h0.75M464.6 99.9h0.75M429.0 90.0h0.75M464.3 111.2h0.75M458.9 88.1h0.75M446.5 104.1h0.75M419.8 120.3h0.75M433.7 111.1h0.75M420.7 78.3h0.75M451.3 114.2h0.75M425.5 111.0h0.75M437.3 80.8h0.75M465.8 81.1h0.75M437.4 86.7h0.75M474.5 90.1h0.75M466.6 91.1h0.75M432.2 92.2h0.75M438.4 92.8h0.75M471.5 86.9h0.75M440.4 114.5h0.75M466.6 106.8h0.75M469.3 115.9h0.75M437.5 86.7h0.75M429.4 78.3h0.75M466.4 84.3h0.75M420.6 102.6h0.75M450.3 97.7h0.75M476.4 106.3h0.75M464.7 95.2h0.75M426.5 100.7h0.75M467.7 115.8h0.75M479.5 84.7h0.75M470.8 94.9h0.75M431.7 88.0h0.75M450.0 97.0h0.75M466.9 86.1h0.75M450.2 83.2h0.75M478.1 84.5h0.75M464.9 110.2h0.75M444.9 79.1h0.75M470.4 106.8h0.75M437.2 111.0h0.75M427.3 82.6h0.75M457.5 89.2h0.75M428.7 79.0h0.75M435.7 98.7h0.75M427.3 102.8h0.75M465.4 91.7h0.75M479.3 93.9h0.75M455.5 106.8h0.75M447.5 98.3h0.75M477.5 91.4h0.75M469.6 87.2h0.75M451.8 88.0h0.75M471.0 81.9h0.75M452.7 118.3h0.75M479.6 95.4h0.75M466.9 115.4h0.75M417.0 80.8h0.75M464.0 104.6h0.75M424.7 83.5h0.75M426.0 82.2h0.75M469.9 102.1h0.75M476.5 103.2h0.75M478.9 101.4h0.75M425.6 93.0h0.75M435.8 92.7h0.75M435.9 110.6h0.75M423.7 110.8h0.75M478.3 102.6h0.75M420.4 88.0h0.75M420.0 98.2h0.75M428.4 105.8h0.75M471.2 110.7h0.75M423.4 106.9h0.75M422.4 104.9h0.75M430.9 113.3h0.75M422.8 113.3h0.75M426.4 98.5h0.75M451.4 115.2h0.75M462.1 110.0h0.75M452.9 94.0h0.75M422.9 97.1h0.75M432.3 92.3h0.75M467.9 102.7h0.75M421.9 88.4h0.75M438.9 103.4h0.75M427.8 98.9h0.75M432.5 82.0h0.75M424.6 109.1h0.75M423.2 82.4h0.75M455.4 112.6h0.75M449.2 102.0h0.75M442.7 100.5h0.75M417.2 94.9h0.75M456.5 83.5h0.75M418.9 90.6h0.75M459.7 94.9h0.75M424.1 89.4h0.75M478.5 108.2h0.75M474.0 105.5h0.75M464.6 99.0h0.75M461.2 95.4h0.75M419.6 117.4h0.75M429.0 93.7h0.75M429.0 93.8h0.75M444.0 82.3h0.75M420.2 98.6h0.75M427.0 106.5h0.75M471.6 97.3h0.75M421.1 90.1h0.75M455.0 109.0h0.75M463.1 92.2h0.75M475.3 104.9h0.75M475.8 108.7h0.75M440.4 106.6h0.75M453.7 84.2h0.75M447.8 90.9h0.75M449.8 102.6h0.75M433.0 98.6h0.75M443.2 106.2h0.75M463.7 111.7h0.75M440.0 88.6h0.75M464.0 113.5h0.75M465.6 85.0h0.75M438.8 89.4h0.75M467.3 109.5h0.75M429.8 111.9h0.75M461.7 104.9h0.75M429.5 90.8h0.75M470.3 109.6h0.75M439.6 87.7h0.75M475.5 95.6h0.75M424.4 88.2h0.75M477.1 95.1h0.75M468.6 92.6h0.75M478.0 95.7h0.75M455.9 87.0h0.75M441.1 92.8h0.75M439.8 110.8h0.75M461.9 104.4h0.75M454.4 90.1h0.75M449.7 80.8h0.75M435.4 94.6h0.75M430.3 115.3h0.75M455.3 92.7h0.75M470.3 113.1h0.75M416.9 92.9h0.75M420.5 87.2h0.75M446.3 85.0h0.75M444.1 98.9h0.75M425.2 99.0h0.75M439.8 115.5h0.75M476.2 91.8h0.75M457.3 101.5h0.75M421.2 105.9h0.75M439.0 93.9h0.75M460.7 106.2h0.75M445.9 114.1h0.75M448.8 97.2h0.75M425.5 105.3h0.75M431.6 105.3h0.75M457.1 83.1h0.75M435.6 100.9h0.75M447.8 104.0h0.75M435.2 106.9h0.75M457.4 111.7h0.75M453.8 110.4h0.75M425.8 113.9h0.75M472.8 107.4h0.75M421.7 82.5h0.75M471.4 109.4h0.75M457.1 115.5h0.75M463.4 96.8h0.75M430.8 107.7h0.75M439.5 99.0h0.75M476.1 91.8h0.75M442.2 99.7h0.75M479.1 97.2h0.75M438.4 113.2h0.75M432.9 104.9h0.75M440.1 102.2h0.75M431.3 114.0h0.75M456.3 104.4h0.75M449.7 82.0h0.75M475.4 93.2h0.75M426.2 102.1h0.75M447.2 100.3h0.75M449.3 114.3h0.75M480.0 84.4h0.75M468.3 101.8h0.75M428.7 111.7h0.75M465.3 85.7h0.75M459.7 92.5h0.75M424.0 100.9h0.75M416.6 86.7h0.75M431.0 89.1h0.75M421.2 85.5h0.75M480.0 93.4h0.75M472.8 97.4h0.75M460.6 101.3h0.75M454.4 86.5h0.75M476.4 121.0h0.75M446.8 81.2h0.75M464.3 109.2h0.75M459.3 105.9h0.75M456.0 90.8h0.75M461.3 88.5h0.75M421.3 109.4h0.75M439.5 83.4h0.75M449.1 94.5h0.75M440.6 95.5h0.75M433.1 80.1h0.75M445.3 116.1h0.75M444.7 110.9h0.75M424.0 99.4h0.75M453.4 94.6h0.75M455.2 108.4h0.75M422.1 97.2h0.75M423.9 85.5h0.75M419.5 84.1h0.75M422.9 113.6h0.75M416.4 109.9h0.75M475.2 79.7h0.75M462.9 102.6h0.75M433.0 98.4h0.75M419.2 112.7h0.75M449.3 108.8h0.75M459.6 113.1h0.75M418.7 115.6h0.75M431.7 104.0h0.75M446.3 108.5h0.75M459.8 107.3h0.75M466.3 105.6h0.75M454.0 99.2h0.75M432.3 112.0h0.75M425.3 82.3h0.75M428.3 90.8h0.75M424.1 108.7h0.75M434.8 87.6h0.75M464.1 102.4h0.75M422.0 114.9h0.75M464.2 113.1h0.75M452.6 113.2h0.75M451.9 87.5h0.75M426.8 108.3h0.75M469.1 104.5h0.75M420.4 90.7h0.75M446.2 110.7h0.75M420.9 104.1h0.75M422.2 81.4h0.75M418.5 96.3h0.75M455.2 86.2h0.75M449.4 90.2h0.75M431.8 104.2h0.75M452.0 92.7h0.75M470.6 103.1h0.75M472.5 117.1h0.75M454.5 92.8h0.75M467.8 104.0h0.75M447.4 104.8h0.75M463.8 119.5h0.75M436.1 116.2h0.75M470.6 86.2h0.75M429.3 108.1h0.75M456.6 90.3h0.75M430.8 99.3h0.75M437.9 112.8h0.75M417.6 90.5h0.75M422.6 89.3h0.75M471.3 85.8h0.75M475.4 113.8h0.75M468.2 111.3h0.75M453.8 88.0h0.75M468.2 89.4h0.75M433.3 111.3h0.75M471.7 82.5h0.75M438.1 116.4h0.75M418.3 110.4h0.75M460.8 116.1h0.75M469.5 100.0h0.75M422.2 93.1h0.75M433.3 109.7h0.75M459.0 97.6h0.75M453.8 115.5h0.75M468.3 82.4h0.75M421.9 104.9h0.75M479.5 106.0h0.75M450.1 88.5h0.75M439.9 113.9h0.75M467.2 97.0h0.75M427.2 112.6h0.75M439.3 80.0h0.75M450.4 102.4h0.75M455.6 100.5h0.75M431.0 89.8h0.75M430.0 111.7h0.75M451.7 100.0h0.75M460.1 85.5h0.75M458.0 88.1h0.75M429.8 83.7h0.75M460.1 93.5h0.75M451.3 105.0h0.75M469.3 108.8h0.75M429.7 108.1h0.75M465.1 91.4h0.75M440.3 121.4h0.75M441.0 111.2h0.75M428.0 111.9h0.75M467.4 98.0h0.75M468.5 85.3h0.75M468.0 104.9h0.75M465.8 106.4h0.75M427.2 89.6h0.75M419.9 91.4h0.75M421.4 110.3h0.75M419.9 86.8h0.75M436.1 84.3h0.75M432.6 85.0h0.75M439.4 80.6h0.75M431.0 102.2h0.75M470.0 101.4h0.75M426.8 104.4h0.75M416.0 87.9h0.75M423.7 99.8h0.75M475.0 80.9h0.75M467.0 103.2h0.75M465.1 89.9h0.75M442.6 110.3h0.75M447.0 113.2h0.75M465.4 103.5h0.75M471.7 87.9h0.75M479.5 87.7h0.75M460.9 102.4h0.75M442.8 119.5h0.75M448.5 98.1h0.75M449.9 112.7h0.75M476.1 94.7h0.75M421.9 94.7h0.75M463.2 109.3h0.75M434.7 109.3h0.75M425.1 91.2h0.75M459.7 105.8h0.75M448.6 110.6h0.75M422.3 95.0h0.75M444.1 101.4h0.75M441.2 95.1h0.75M483.0 79.2h0.75M464.9 93.6h0.75M455.6 92.2h0.75M433.6 96.9h0.75M470.4 97.1h0.75M465.6 80.7h0.75M437.7 101.9h0.75M444.7 113.2h0.75M421.0 94.3h0.75M458.9 91.1h0.75M421.9 101.3h0.75M450.1 87.0h0.75M432.8 111.8h0.75M424.9 84.0h0.75M428.4 90.6h0.75M467.7 94.0h0.75M440.5 87.8h0.75M446.2 99.8h0.75M425.7 90.8h0.75M428.2 113.7h0.75M436.5 86.7h0.75M460.1 80.3h0.75M424.8 87.1h0.75M472.2 102.5h0.75M431.4 114.8h0.75M434.4 79.7h0.75M462.1 88.3h0.75M457.1 91.4h0.75M424.9 104.6h0.75M421.0 83.2h0.75M450.0 97.4h0.75M416.0 114.1h0.75M469.3 81.1h0.75M474.3 107.4h0.75M462.4 112.3h0.75M424.2 106.0h0.75M422.6 82.7h0.75M422.1 93.1h0.75M451.6 112.0h0.75M421.5 87.0h0.75M476.0 90.1h0.75M462.9 92.5h0.75M424.1 114.1h0.75M471.5 91.0h0.75M438.4 107.6h0.75M475.0 110.7h0.75M470.7 89.3h0.75M427.0 120.3h0.75M471.3 99.9h0.75M451.8 94.3h0.75M419.5 118.2h0.75M423.0 106.6h0.75M469.1 82.2h0.75M468.5 82.3h0.75M477.9 110.1h0.75M469.3 107.0h0.75M451.1 120.1h0.75M477.6 108.6h0.75M474.2 82.0h0.75M464.4 113.7h0.75M436.2 87.3h0.75M453.2 95.9h0.75M417.1 99.8h0.75M461.5 101.4h0.75M464.4 97.1h0.75M448.2 83.3h0.75M455.4 113.8h0.75M432.0 101.4h0.75M431.3 92.3h0.75M430.0 108.3h0.75M419.8 118.2h0.75M463.2 91.4h0.75M479.7 100.0h0.75M461.2 114.6h0.75M453.2 114.9h0.75M444.6 83.7h0.75M455.6 95.2h0.75M419.7 108.5h0.75M476.5 83.2h0.75M467.3 103.1h0.75M418.4 107.6h0.75M436.4 89.8h0.75M424.7 93.9h0.75M436.3 112.4h0.75M420.3 104.5h0.75M461.2 92.4h0.75M457.1 110.6h0.75M443.5 83.7h0.75M453.1 90.4h0.75M458.4 109.7h0.75M475.4 84.6h0.75M479.9 106.5h0.75M427.6 115.2h0.75M476.5 98.5h0.75M420.9 111.6h0.75M450.7 94.8h0.75M466.0 107.9h0.75M458.4 89.7h0.75M479.3 100.0h0.75M437.5 91.4h0.75M470.0 80.7h0.75M421.7 90.3h0.75M418.9 110.3h0.75M417.3 95.4h0.75M450.4 111.1h0.75M466.1 101.9h0.75M453.8 78.6h0.75M435.4 80.8h0.75M464.6 109.4h0.75M457.6 85.7h0.75M441.4 87.6h0.75M425.4 87.4h0.75M470.1 81.0h0.75M429.0 105.9h0.75M414.4 98.2h0.75M431.6 93.0h0.75M436.3 94.5h0.75M466.2 98.2h0.75M421.8 98.5h0.75M421.4 90.0h0.75M461.5 104.5h0.75M440.2 78.2h0.75M418.5 111.2h0.75M472.0 114.1h0.75M461.5 86.0h0.75M420.2 112.4h0.75M422.8 88.1h0.75M467.2 84.9h0.75M425.2 86.4h0.75M460.2 79.1h0.75M455.6 99.9h0.75M419.8 101.6h0.75M418.8 111.3h0.75M455.4 99.9h0.75M468.4 100.3h0.75M467.7 85.2h0.75M428.9 108.4h0.75M432.0 106.5h0.75M418.1 83.1h0.75M438.1 98.5h0.75M441.0 81.3h0.75M448.5 112.4h0.75M422.6 84.7h0.75M451.5 102.4h0.75M466.6 92.6h0.75M432.8 117.0h0.75M421.3 84.9h0.75M464.3 112.3h0.75M431.6 82.1h0.75M454.3 115.6h0.75M447.6 97.0h0.75M481.7 102.9h0.75M475.8 82.7h0.75M422.9 99.1h0.75M446.1 97.1h0.75M464.7 100.3h0.75M420.5 96.4h0.75M469.6 83.7h0.75M419.8 110.3h0.75M438.5 108.7h0.75M450.1 100.4h0.75M454.7 96.0h0.75M472.8 107.5h0.75M456.1 80.6h0.75M422.3 103.7h0.75M474.8 75.5h0.75M468.5 99.3h0.75M429.0 105.7h0.75M420.7 86.8h0.75M454.8 86.2h0.75M474.6 92.3h0.75M426.0 102.4h0.75M447.1 108.5h0.75M449.5 89.8h0.75M472.1 97.0h0.75M433.8 87.0h0.75M449.0 91.7h0.75M424.5 92.2h0.75M462.0 102.5h0.75M428.6 87.1h0.75M450.3 88.2h0.75M480.5 97.9h0.75M467.9 79.1h0.75M463.5 103.0h0.75M473.2 103.3h0.75M424.8 108.2h0.75M426.1 90.6h0.75M480.4 98.1h0.75M446.1 88.0h0.75M464.5 85.7h0.75M447.8 105.9h0.75M468.6 89.4h0.75M447.7 106.2h0.75M426.2 107.7h0.75M449.8 108.4h0.75M440.6 101.0h0.75M478.4 105.7h0.75M459.9 103.4h0.75M467.5 114.5h0.75M442.6 92.0h0.75M476.0 107.2h0.75M452.3 116.3h0.75M438.8 107.3h0.75M448.8 87.2h0.75M467.9 92.1h0.75M459.5 93.3h0.75M477.5 90.3h0.75M469.1 105.4h0.75M427.0 104.9h0.75M453.4 109.7h0.75M458.3 106.4h0.75M458.4 95.7h0.75M447.5 81.6h0.75M449.5 112.5h0.75M423.5 87.2h0.75M467.4 95.5h0.75M442.0 99.5h0.75M481.6 83.9h0.75M479.8 89.1h0.75M435.9 100.1h0.75M461.2 94.3h0.75M434.0 96.5h0.75M464.7 105.7h0.75M419.2 80.3h0.75M426.2 83.6h0.75M430.7 83.6h0.75M462.1 102.2h0.75M471.3 106.8h0.75M456.8 105.9h0.75M439.9 105.0h0.75M468.7 115.6h0.75M439.8 99.1h0.75M444.4 95.0h0.75M452.5 87.9h0.75M434.2 102.1h0.75M472.8 84.8h0.75M453.0 90.3h0.75M427.6 83.7h0.75M470.8 85.9h0.75M443.3 98.8h0.75M476.6 102.2h0.75M473.5 92.8h0.75M452.8 84.4h0.75M465.9 82.6h0.75M460.5 99.5h0.75M428.6 94.1h0.75M454.8 85.3h0.75M425.5 107.4h0.75M472.4 110.9h0.75M420.0 114.6h0.75M476.5 85.6h0.75M467.3 106.8h0.75M449.5 100.4h0.75M442.7 107.4h0.75M452.1 91.6h0.75M426.4 90.8h0.75M465.3 96.1h0.75M475.4 93.4h0.75M429.1 97.7h0.75M439.0 106.1h0.75M417.6 84.7h0.75M474.3 99.3h0.75M432.6 99.0h0.75M429.8 103.1h0.75M450.4 105.4h0.75M426.2 83.7h0.75M433.0 104.1h0.75M425.1 114.4h0.75M439.4 119.7h0.75M481.8 84.4h0.75M419.1 97.1h0.75M477.4 101.6h0.75M425.2 90.1h0.75M427.1 103.9h0.75M419.3 114.8h0.75M458.5 86.2h0.75M423.1 89.1h0.75M464.5 90.5h0.75M447.3 110.2h0.75M449.7 87.2h0.75M431.7 84.7h0.75M465.9 87.6h0.75M421.1 99.4h0.75M474.9 116.5h0.75M454.3 109.5h0.75M441.8 98.4h0.75M427.8 97.0h0.75M431.4 113.7h0.75M462.0 80.2h0.75M426.8 108.4h0.75M469.7 102.3h0.75M437.5 81.0h0.75M466.3 101.5h0.75M430.3 97.3h0.75M416.2 96.1h0.75M470.2 89.8h0.75M435.3 94.8h0.75M449.5 114.9h0.75M432.4 103.6h0.75M445.8 100.3h0.75M477.1 88.3h0.75M431.0 98.6h0.75M424.1 80.8h0.75M419.5 80.7h0.75M470.6 116.3h0.75M434.6 113.5h0.75M478.9 110.4h0.75M419.8 105.4h0.75M461.0 106.6h0.75M458.4 107.5h0.75M450.1 102.8h0.75M467.4 100.1h0.75M450.2 85.0h0.75M428.1 98.9h0.75M454.7 96.6h0.75M469.5 107.0h0.75M431.7 89.7h0.75M465.9 92.4h0.75M470.9 90.0h0.75M471.1 94.5h0.75M479.0 111.0h0.75M437.5 83.3h0.75M422.5 105.7h0.75M430.8 107.2h0.75M476.2 88.8h0.75M460.0 100.8h0.75M423.4 102.8h0.75M466.9 83.4h0.75M415.8 100.9h0.75M424.5 81.6h0.75M452.2 112.5h0.75M449.5 110.9h0.75M468.1 108.8h0.75M477.6 92.0h0.75M450.1 111.1h0.75M437.1 93.5h0.75M445.9 114.7h0.75M456.9 105.7h0.75M421.1 101.8h0.75M454.0 110.4h0.75M465.3 106.3h0.75M480.6 91.1h0.75M423.5 85.3h0.75M422.5 113.0h0.75M434.6 99.7h0.75M482.2 111.5h0.75M463.9 103.4h0.75M444.4 99.8h0.75M467.3 113.2h0.75M440.4 108.5h0.75M425.6 91.5h0.75M459.7 111.5h0.75M419.0 99.6h0.75M462.5 83.4h0.75M443.1 97.0h0.75M418.4 88.1h0.75M464.2 96.1h0.75M427.2 112.1h0.75M463.0 100.8h0.75M429.4 85.2h0.75M454.9 97.9h0.75M421.5 85.6h0.75M420.6 110.4h0.75M425.1 116.2h0.75M423.0 87.5h0.75M437.2 118.7h0.75M483.1 112.9h0.75M447.8 85.3h0.75M430.5 109.5h0.75M422.4 88.4h0.75M423.0 110.1h0.75M470.8 90.9h0.75M456.7 110.1h0.75M444.4 96.2h0.75M434.5 108.4h0.75M432.7 92.8h0.75M451.0 88.8h0.75M458.4 108.7h0.75M441.5 115.3h0.75M450.7 85.7h0.75M450.7 111.8h0.75M439.6 99.7h0.75M473.4 87.7h0.75M441.3 105.7h0.75M455.3 96.6h0.75M425.5 97.8h0.75M453.7 107.3h0.75M467.0 104.3h0.75M460.3 97.7h0.75M429.6 105.6h0.75M472.4 96.0h0.75M448.8 92.5h0.75M462.8 104.5h0.75M434.1 102.2h0.75M429.2 83.0h0.75M422.5 103.7h0.75M476.7 81.6h0.75M417.8 104.1h0.75M466.0 112.3h0.75M457.7 92.2h0.75M451.3 93.2h0.75M450.9 91.7h0.75M461.5 106.6h0.75M448.6 97.4h0.75M466.0 109.6h0.75M468.9 92.7h0.75M469.0 92.9h0.75M444.2 103.4h0.75M452.3 118.6h0.75M465.1 108.8h0.75M476.2 108.9h0.75M449.0 99.2h0.75M425.8 111.2h0.75M456.0 101.5h0.75M434.7 106.9h0.75M469.3 98.2h0.75M484.7 88.2h0.75M472.9 92.1h0.75M439.4 91.1h0.75M469.9 101.3h0.75M440.5 98.5h0.75M445.2 105.1h0.75M426.3 100.5h0.75M431.9 109.8h0.75M466.4 110.2h0.75M454.8 107.2h0.75M477.5 103.0h0.75M457.9 94.4h0.75M435.4 86.8h0.75M420.7 87.6h0.75M480.7 83.1h0.75M439.9 105.1h0.75M461.2 82.1h0.75M454.7 109.0h0.75M416.5 106.4h0.75M479.6 107.5h0.75M467.2 105.0h0.75M449.8 105.8h0.75M441.6 114.3h0.75M437.8 95.4h0.75M426.5 97.4h0.75M454.6 111.3h0.75M461.8 85.4h0.75M475.9 112.2h0.75M445.9 84.5h0.75M427.1 114.7h0.75M466.6 87.4h0.75M464.9 98.2h0.75M446.8 112.2h0.75M451.6 102.6h0.75M431.2 98.7h0.75M457.8 118.0h0.75M425.6 100.4h0.75M431.3 79.3h0.75M423.9 93.8h0.75M476.1 90.2h0.75M423.6 108.9h0.75M477.6 114.9h0.75M449.8 114.9h0.75M483.0 87.7h0.75M462.8 109.2h0.75M426.9 79.5h0.75M443.8 83.6h0.75M419.8 82.9h0.75M467.0 100.6h0.75M428.9 105.6h0.75M459.3 91.3h0.75M479.7 103.6h0.75M460.4 84.2h0.75M480.6 107.7h0.75M439.8 108.1h0.75M425.0 96.4h0.75M428.3 119.0h0.75M458.5 105.2h0.75M458.2 100.8h0.75M426.3 97.4h0.75M457.5 86.5h0.75M450.0 95.2h0.75M420.7 114.6h0.75M434.0 96.2h0.75M427.2 89.9h0.75M421.5 90.8h0.75M466.1 111.8h0.75M426.0 96.7h0.75M425.6 91.4h0.75M419.9 103.1h0.75M467.4 108.6h0.75M423.9 110.9h0.75M476.7 111.8h0.75M443.0 117.2h0.75M450.5 81.8h0.75M452.3 107.1h0.75M433.0 90.4h0.75M461.3 102.9h0.75M426.9 113.3h0.75M456.2 77.6h0.75M431.5 94.0h0.75M464.0 88.4h0.75M449.3 86.1h0.75M466.8 98.7h0.75M438.1 101.8h0.75M440.9 101.3h0.75M426.2 116.1h0.75M452.2 94.2h0.75M476.6 90.0h0.75M467.3 93.3h0.75M424.6 91.1h0.75M420.9 105.1h0.75M462.9 89.0h0.75M478.7 94.4h0.75M448.2 95.9h0.75M429.3 110.2h0.75M476.5 112.9h0.75M423.8 102.3h0.75M440.5 96.9h0.75M425.3 106.4h0.75M429.1 88.2h0.75M448.3 117.4h0.75M454.3 104.3h0.75M468.9 97.6h0.75M438.8 113.4h0.75M441.1 105.0h0.75M459.7 107.2h0.75M443.0 115.2h0.75M451.2 91.2h0.75M439.4 107.0h0.75M462.9 113.7h0.75M459.1 105.5h0.75M467.9 99.8h0.75M473.5 107.7h0.75M444.3 98.5h0.75M446.5 112.8h0.75M442.6 80.4h0.75M473.1 97.0h0.75M415.2 79.8h0.75M447.1 101.9h0.75M419.7 88.9h0.75M433.9 85.0h0.75M471.6 112.4h0.75M451.4 91.5h0.75M473.1 105.7h0.75M442.2 111.0h0.75M449.4 107.1h0.75M425.0 103.3h0.75M466.9 116.0h0.75M464.9 92.8h0.75M423.9 117.1h0.75M476.9 81.8h0.75M455.5 86.3h0.75M427.4 109.0h0.75M462.4 81.3h0.75M460.2 113.9h0.75M460.9 104.7h0.75M424.2 98.2h0.75M440.9 112.0h0.75M432.7 94.2h0.75M479.6 82.5h0.75M444.7 109.8h0.75M431.8 93.9h0.75M441.4 110.3h0.75M426.3 100.3h0.75M429.5 113.2h0.75M444.9 116.2h0.75M451.9 105.5h0.75M453.1 109.2h0.75M463.2 93.3h0.75M439.2 90.3h0.75M468.4 99.7h0.75M463.7 78.1h0.75M442.4 91.2h0.75M468.4 96.7h0.75M466.4 98.2h0.75M453.9 101.3h0.75M468.8 87.0h0.75M430.6 89.4h0.75M466.4 83.4h0.75M429.7 104.8h0.75M467.9 109.2h0.75M459.6 86.1h0.75M479.4 106.4h0.75M465.7 103.9h0.75M462.9 110.7h0.75M437.8 84.0h0.75M448.3 81.8h0.75M442.4 108.4h0.75M447.5 85.0h0.75M475.2 92.2h0.75M423.1 94.4h0.75M459.8 100.6h0.75M464.3 85.3h0.75M426.3 112.6h0.75M444.5 96.3h0.75M423.0 107.7h0.75M453.5 92.3h0.75M424.7 110.8h0.75M424.0 116.0h0.75M429.5 82.4h0.75M463.6 114.1h0.75M473.0 118.3h0.75M443.4 114.2h0.75M452.6 85.0h0.75M475.8 94.7h0.75M454.1 88.9h0.75M464.1 101.3h0.75M428.1 137.0h0.75M434.9 132.5h0.75M442.2 132.3h0.75M451.3 131.1h0.75M419.7 127.0h0.75M450.4 140.3h0.75M440.2 118.8h0.75M462.2 121.1h0.75M434.8 126.4h0.75M428.6 123.3h0.75M457.6 136.0h0.75M419.6 132.8h0.75M447.8 134.8h0.75M417.7 120.8h0.75M417.9 142.8h0.75M471.6 120.5h0.75M440.2 128.1h0.75M429.8 141.9h0.75M470.3 139.5h0.75M456.1 122.8h0.75M423.9 122.1h0.75M449.1 123.8h0.75M469.0 125.5h0.75M452.2 131.0h0.75M422.9 120.9h0.75M418.2 130.4h0.75M434.0 134.6h0.75M456.2 135.4h0.75M458.5 125.0h0.75M418.5 131.5h0.75M430.3 123.2h0.75M464.9 130.5h0.75M434.8 119.6h0.75M417.8 122.8h0.75M439.0 132.1h0.75M440.0 139.3h0.75M419.9 131.3h0.75M460.5 125.6h0.75M428.3 143.7h0.75M417.5 120.6h0.75M429.5 133.6h0.75M450.2 126.5h0.75M451.6 137.4h0.75M450.1 135.1h0.75M444.0 135.0h0.75M431.8 119.4h0.75M439.7 127.6h0.75M443.2 132.1h0.75M454.8 136.5h0.75M451.3 115.0h0.75M441.0 122.0h0.75M454.0 138.3h0.75M469.9 136.4h0.75M430.6 126.4h0.75M468.8 135.1h0.75M432.2 132.4h0.75M455.4 123.3h0.75M430.5 125.2h0.75M422.7 121.9h0.75M420.3 121.4h0.75M435.2 134.9h0.75M427.4 141.8h0.75M472.6 138.8h0.75M426.8 129.2h0.75M446.3 124.8h0.75M460.2 138.6h0.75M464.5 144.8h0.75M417.8 137.2h0.75M424.0 139.5h0.75M448.8 122.8h0.75M456.6 129.9h0.75M460.6 126.0h0.75M461.3 134.9h0.75M428.2 135.4h0.75M470.9 133.8h0.75M454.2 118.5h0.75M426.0 128.8h0.75M464.1 132.9h0.75M437.0 120.4h0.75M456.9 123.7h0.75M458.9 128.4h0.75M426.6 118.5h0.75M423.3 133.0h0.75M455.3 138.9h0.75M436.9 116.1h0.75M452.4 139.7h0.75M447.0 135.3h0.75M435.8 136.9h0.75M440.4 131.8h0.75M442.6 123.1h0.75M446.1 136.3h0.75M444.4 135.2h0.75M475.8 120.5h0.75M449.0 136.1h0.75M437.9 124.7h0.75M463.5 141.5h0.75M448.7 128.4h0.75M471.1 142.8h0.75M419.1 139.8h0.75M437.1 128.6h0.75M426.8 123.4h0.75M424.3 141.8h0.75M434.3 142.9h0.75M463.2 120.8h0.75M462.1 130.7h0.75M453.2 118.1h0.75M467.5 119.6h0.75M449.6 134.8h0.75M419.1 133.8h0.75M424.3 128.0h0.75M434.8 122.9h0.75M433.0 132.9h0.75M458.7 129.6h0.75M450.1 133.1h0.75M459.7 135.6h0.75M438.6 130.0h0.75M452.3 137.3h0.75M448.7 141.8h0.75M437.6 143.3h0.75M421.7 136.9h0.75M471.4 140.1h0.75M464.1 132.3h0.75M456.7 127.0h0.75M467.3 136.8h0.75M439.8 135.7h0.75M428.7 130.6h0.75M418.2 121.7h0.75M453.7 118.1h0.75M423.9 129.4h0.75M451.0 142.1h0.75M442.1 139.9h0.75M436.2 140.9h0.75M439.0 121.3h0.75M420.9 140.8h0.75M439.5 145.8h0.75M434.2 118.4h0.75M429.9 133.6h0.75M468.4 127.5h0.75M418.6 130.5h0.75M444.6 117.1h0.75M466.6 132.7h0.75M453.0 116.3h0.75M421.4 135.4h0.75M441.2 132.4h0.75M465.2 135.7h0.75M457.7 118.1h0.75M423.9 129.2h0.75M459.7 124.1h0.75M452.3 138.3h0.75M464.5 118.2h0.75M462.3 124.3h0.75M429.9 126.6h0.75M453.2 133.5h0.75M460.5 134.1h0.75M437.1 120.4h0.75M466.7 138.0h0.75M425.1 120.3h0.75M428.3 142.3h0.75M424.5 127.0h0.75M459.2 131.9h0.75M423.7 142.6h0.75M440.8 141.0h0.75M427.8 141.0h0.75M466.6 134.1h0.75M424.5 130.3h0.75M427.6 140.8h0.75M461.8 119.9h0.75M429.9 138.0h0.75M433.4 135.2h0.75M455.1 124.9h0.75M464.0 137.4h0.75M472.0 130.8h0.75M432.6 122.7h0.75M464.6 138.3h0.75M474.0 134.3h0.75M433.9 133.8h0.75M459.0 122.8h0.75M459.0 140.4h0.75M423.3 120.4h0.75M427.2 129.6h0.75M434.9 133.0h0.75M463.7 120.5h0.75M466.5 132.8h0.75M422.5 121.2h0.75M419.2 126.3h0.75M448.6 140.4h0.75M470.1 140.5h0.75M450.3 120.0h0.75M426.3 120.2h0.75M468.1 116.0h0.75M467.7 125.7h0.75M457.5 130.7h0.75M421.8 117.3h0.75M446.1 122.2h0.75M444.6 122.1h0.75M439.2 139.8h0.75M447.0 139.8h0.75M441.3 140.7h0.75M435.0 117.8h0.75M448.1 139.4h0.75M439.6 140.3h0.75M425.2 129.0h0.75M428.7 138.6h0.75M452.6 123.4h0.75M466.1 138.9h0.75M453.0 119.1h0.75M438.0 136.2h0.75M428.2 117.5h0.75M427.9 138.5h0.75M429.6 118.0h0.75M430.5 132.1h0.75M426.7 117.9h0.75M438.0 128.0h0.75M422.7 117.6h0.75M453.2 135.8h0.75M446.6 128.4h0.75M429.7 121.2h0.75M437.8 134.4h0.75M440.4 139.2h0.75M428.7 142.5h0.75M466.2 142.3h0.75M422.8 119.2h0.75M439.1 126.0h0.75M449.5 140.8h0.75M420.6 138.1h0.75M416.9 140.4h0.75M436.7 128.2h0.75M420.9 142.7h0.75M456.9 126.1h0.75M421.6 139.2h0.75M431.3 118.9h0.75M446.7 120.3h0.75M458.3 143.6h0.75M427.5 118.2h0.75M426.7 127.1h0.75M455.1 121.3h0.75M439.2 119.1h0.75M451.9 123.5h0.75M439.8 124.0h0.75M422.2 118.2h0.75M425.0 130.1h0.75M441.1 120.5h0.75M457.0 125.5h0.75M428.1 120.9h0.75M427.4 132.9h0.75M426.6 115.2h0.75M429.8 119.4h0.75M470.3 125.3h0.75M435.9 135.4h0.75M467.4 121.4h0.75M428.7 139.5h0.75M450.4 138.6h0.75M440.0 122.3h0.75M427.1 139.9h0.75M458.4 131.3h0.75M430.2 135.3h0.75M471.6 118.6h0.75M418.4 119.7h0.75M421.5 125.8h0.75M430.2 132.2h0.75M423.2 122.5h0.75M453.0 133.0h0.75M431.4 138.2h0.75M424.0 127.2h0.75M471.4 128.7h0.75M428.3 135.3h0.75M465.5 115.7h0.75M416.1 124.4h0.75M443.7 125.6h0.75M440.7 140.5h0.75M416.2 120.2h0.75M463.4 115.8h0.75M454.8 119.1h0.75M421.7 116.6h0.75M447.3 141.0h0.75M454.2 135.2h0.75M425.1 135.7h0.75M417.8 140.7h0.75M425.1 134.8h0.75M422.9 120.0h0.75M425.3 130.0h0.75M422.8 132.6h0.75M419.7 117.9h0.75M438.7 126.0h0.75M463.9 135.8h0.75M438.7 119.7h0.75M446.8 129.5h0.75M469.9 122.9h0.75M426.4 144.4h0.75M444.5 128.9h0.75M418.7 133.0h0.75M446.6 136.5h0.75M426.6 139.9h0.75M443.6 143.5h0.75M463.8 119.0h0.75M426.3 127.4h0.75M429.7 128.6h0.75M450.3 136.4h0.75M432.5 135.7h0.75M419.5 137.7h0.75M449.3 133.6h0.75M422.0 124.1h0.75M425.1 129.6h0.75M461.4 118.2h0.75M446.0 135.8h0.75M425.4 117.6h0.75M436.7 139.3h0.75M434.1 137.7h0.75M432.5 122.8h0.75M425.7 139.0h0.75M438.6 137.5h0.75M416.1 130.2h0.75M441.7 141.1h0.75M429.3 120.4h0.75M445.1 142.8h0.75M442.3 128.1h0.75M424.1 126.0h0.75M424.6 124.0h0.75M419.5 128.9h0.75M434.8 137.3h0.75M451.3 131.6h0.75M434.4 136.8h0.75M457.6 128.7h0.75M457.7 127.1h0.75M419.6 133.2h0.75M462.0 118.5h0.75M472.3 134.0h0.75M448.6 138.3h0.75M462.4 135.2h0.75M432.2 117.1h0.75M470.2 124.4h0.75M452.1 116.9h0.75M419.3 129.5h0.75M432.5 135.3h0.75M465.3 135.5h0.75M461.8 129.7h0.75M421.8 130.5h0.75M448.3 134.2h0.75M424.1 116.5h0.75M436.7 141.2h0.75M431.4 130.6h0.75M428.8 137.1h0.75M443.1 128.0h0.75M433.1 129.2h0.75M440.6 117.3h0.75M469.5 143.2h0.75M450.2 129.3h0.75M431.3 130.9h0.75M445.8 137.8h0.75M441.0 127.8h0.75M430.9 133.8h0.75M424.7 134.6h0.75M453.4 135.0h0.75M420.4 142.2h0.75M441.5 136.0h0.75M450.7 120.9h0.75M435.7 120.9h0.75M427.5 142.1h0.75M435.4 122.1h0.75M418.7 123.3h0.75M425.5 137.6h0.75M469.1 123.7h0.75M421.8 120.2h0.75M437.6 137.9h0.75M417.7 141.7h0.75M423.4 119.5h0.75M442.0 120.2h0.75M454.4 119.8h0.75M466.8 145.1h0.75M465.1 120.1h0.75M466.9 122.8h0.75M445.3 137.8h0.75M457.8 117.6h0.75M433.6 128.7h0.75M431.8 116.0h0.75M471.5 138.8h0.75M462.3 137.1h0.75M462.0 131.4h0.75M424.6 131.4h0.75M433.8 117.5h0.75M444.4 129.7h0.75M416.2 134.8h0.75M453.2 120.2h0.75M439.5 119.4h0.75M421.4 137.5h0.75M418.8 125.8h0.75M416.2 140.6h0.75M440.0 119.0h0.75M447.3 142.1h0.75M428.2 141.1h0.75M456.8 123.1h0.75M422.9 141.1h0.75M450.8 143.5h0.75M460.7 136.9h0.75M466.0 136.7h0.75M416.5 116.9h0.75M461.7 138.4h0.75M436.0 143.9h0.75M426.8 127.8h0.75M433.0 132.3h0.75M447.7 130.8h0.75M439.7 120.9h0.75M433.0 136.6h0.75M424.8 138.0h0.75M455.2 134.8h0.75M451.9 124.2h0.75M454.0 134.0h0.75M458.2 116.0h0.75M471.9 133.6h0.75M465.2 135.3h0.75M438.1 126.4h0.75M429.9 118.1h0.75M444.7 118.8h0.75M448.3 135.1h0.75M449.9 121.8h0.75M465.1 140.2h0.75M428.0 123.2h0.75M429.8 129.2h0.75M463.7 139.0h0.75M431.0 128.6h0.75M448.1 132.0h0.75M467.5 130.5h0.75M444.7 119.7h0.75M458.7 137.9h0.75M424.1 133.3h0.75M416.8 134.9h0.75M416.5 137.8h0.75M459.5 142.9h0.75M418.8 134.0h0.75M454.5 117.8h0.75M419.6 135.2h0.75M471.7 138.8h0.75M436.9 132.9h0.75M421.1 118.5h0.75M430.5 135.4h0.75M425.4 121.0h0.75M429.4 137.0h0.75M424.2 120.4h0.75M442.4 137.6h0.75M424.3 126.0h0.75M441.2 118.1h0.75M452.8 135.6h0.75M465.4 141.1h0.75M455.4 123.3h0.75M443.6 141.6h0.75M469.8 129.3h0.75M468.7 129.0h0.75M453.9 119.8h0.75M455.2 129.9h0.75M422.5 123.5h0.75M420.6 125.7h0.75M424.4 131.7h0.75M447.9 132.9h0.75M427.5 135.2h0.75M428.5 132.2h0.75M465.1 120.1h0.75M450.8 141.1h0.75M470.4 136.4h0.75M452.0 123.3h0.75M422.8 125.0h0.75M421.2 139.7h0.75M466.3 135.3h0.75M470.5 119.2h0.75M459.4 133.0h0.75M470.4 123.3h0.75M462.6 140.5h0.75M441.4 136.4h0.75M428.7 136.3h0.75M452.8 138.1h0.75M421.5 121.8h0.75M433.7 123.8h0.75M438.9 132.3h0.75M465.2 135.1h0.75M455.0 135.6h0.75M424.7 134.7h0.75M417.8 130.5h0.75M431.2 137.8h0.75M426.4 124.2h0.75M422.4 121.8h0.75M464.8 138.6h0.75M461.8 134.2h0.75M428.5 123.4h0.75M467.0 128.9h0.75M427.3 118.1h0.75M420.8 123.9h0.75M431.2 141.2h0.75M445.1 141.1h0.75M459.3 131.1h0.75M469.9 139.3h0.75M458.4 119.5h0.75M449.3 123.5h0.75M468.4 131.9h0.75M457.4 136.9h0.75M439.9 130.1h0.75M464.6 137.2h0.75M422.9 137.8h0.75M456.4 135.3h0.75M429.8 125.7h0.75M443.2 135.4h0.75M446.0 119.3h0.75M438.9 137.6h0.75M424.9 134.4h0.75M466.0 138.0h0.75M445.6 126.4h0.75M424.5 122.8h0.75M457.3 134.5h0.75M436.5 123.0h0.75M444.1 118.4h0.75M418.8 119.7h0.75M456.8 122.0h0.75M470.5 134.1h0.75M425.8 139.0h0.75M427.6 141.1h0.75M427.6 120.1h0.75M431.6 132.4h0.75M463.6 130.5h0.75M431.4 118.5h0.75M475.1 132.7h0.75M424.2 132.4h0.75M457.3 118.3h0.75M432.7 134.7h0.75M454.9 117.5h0.75M430.0 131.3h0.75M473.5 121.0h0.75M458.5 117.8h0.75M426.3 128.1h0.75M468.0 142.5h0.75M434.1 129.0h0.75M422.2 139.3h0.75M428.7 120.2h0.75M420.4 123.2h0.75M473.1 133.0h0.75M426.2 140.3h0.75M462.5 131.8h0.75M414.3 132.8h0.75M445.7 138.6h0.75M440.4 131.1h0.75M425.1 133.3h0.75M421.1 117.8h0.75M432.4 123.9h0.75M473.8 127.0h0.75M436.2 141.1h0.75M416.0 121.7h0.75M423.5 136.0h0.75M421.1 128.4h0.75M418.0 135.2h0.75M447.1 129.4h0.75M473.2 119.3h0.75M421.5 131.6h0.75M464.7 140.2h0.75M455.2 117.3h0.75M462.2 121.0h0.75M448.0 135.2h0.75M416.7 142.2h0.75M450.5 121.2h0.75M427.7 130.8h0.75M447.3 122.7h0.75M452.6 122.8h0.75M438.6 125.3h0.75M447.4 135.1h0.75M469.3 122.0h0.75M426.2 135.3h0.75M433.5 140.9h0.75M463.4 127.3h0.75M449.3 122.7h0.75M464.5 135.2h0.75M420.4 132.4h0.75M461.1 132.8h0.75M475.0 128.1h0.75M440.2 143.3h0.75M435.0 124.4h0.75M432.7 130.5h0.75M426.7 137.7h0.75M468.0 124.2h0.75M441.6 116.4h0.75M446.0 132.2h0.75M423.7 130.4h0.75M443.3 135.3h0.75M457.7 118.6h0.75M458.4 116.4h0.75M426.6 134.3h0.75M468.7 140.2h0.75M417.8 126.5h0.75M451.8 129.9h0.75M457.4 136.5h0.75M423.2 141.7h0.75M425.4 119.8h0.75M449.4 135.8h0.75M459.3 122.3h0.75M420.1 140.8h0.75M464.8 130.2h0.75M438.1 116.1h0.75M463.6 125.1h0.75M440.7 126.9h0.75M474.0 114.6h0.75M426.8 119.9h0.75M460.8 122.9h0.75M430.4 126.4h0.75M462.4 144.3h0.75M424.7 125.9h0.75M417.7 124.9h0.75M437.3 141.8h0.75M423.7 121.5h0.75M464.6 135.8h0.75M426.5 144.1h0.75M465.3 132.1h0.75M426.4 124.7h0.75M419.2 134.0h0.75M459.5 141.7h0.75M469.8 116.4h0.75M465.3 139.2h0.75M429.1 129.8h0.75M434.3 127.1h0.75M432.3 125.0h0.75M431.2 117.9h0.75M471.0 126.6h0.75M417.5 127.7h0.75M425.9 131.5h0.75M416.0 119.7h0.75M434.5 127.7h0.75M430.4 118.6h0.75M436.7 135.8h0.75M463.9 130.6h0.75M443.3 131.1h0.75M471.7 136.0h0.75M424.3 134.9h0.75M442.0 118.5h0.75M452.2 134.7h0.75M430.5 120.5h0.75M431.2 132.6h0.75M417.9 120.1h0.75M439.3 119.4h0.75M456.4 138.2h0.75M435.8 143.3h0.75M467.1 136.9h0.75M429.3 133.1h0.75M425.1 132.8h0.75M431.4 129.7h0.75M453.8 117.3h0.75M415.6 131.0h0.75M421.4 135.2h0.75M464.8 129.0h0.75M450.4 120.8h0.75M417.3 121.3h0.75M422.3 127.0h0.75M421.2 122.5h0.75M471.1 142.0h0.75M470.6 124.3h0.75M464.3 137.6h0.75M454.1 135.9h0.75M433.2 128.3h0.75M419.0 118.5h0.75M430.1 121.7h0.75M450.9 136.7h0.75M459.4 138.3h0.75M422.7 143.4h0.75M421.9 136.1h0.75M457.3 142.2h0.75M457.3 142.2h0.75M465.4 122.6h0.75M450.9 121.9h0.75M470.4 121.8h0.75M446.3 136.8h0.75M461.9 116.5h0.75M421.1 124.4h0.75M419.4 139.5h0.75M425.1 142.4h0.75M438.1 139.3h0.75M422.2 128.9h0.75M468.2 139.0h0.75M427.5 138.5h0.75M430.9 122.4h0.75M462.6 134.2h0.75M456.4 139.8h0.75M467.9 120.5h0.75M430.3 116.3h0.75M420.4 128.4h0.75M425.6 127.9h0.75M446.6 126.0h0.75M450.2 117.4h0.75M428.1 142.7h0.75M435.0 130.2h0.75M433.9 117.2h0.75M430.1 135.9h0.75M416.6 115.9h0.75M426.6 124.0h0.75M431.2 120.8h0.75M432.3 120.4h0.75M468.2 138.2h0.75M419.7 127.3h0.75M418.8 141.4h0.75M461.7 140.2h0.75M445.6 141.0h0.75M475.1 123.1h0.75M430.2 125.5h0.75M456.6 141.3h0.75M442.6 140.4h0.75M451.1 137.7h0.75M438.7 120.1h0.75M432.7 117.6h0.75M422.1 120.6h0.75M463.8 133.9h0.75M472.9 128.3h0.75M425.0 132.1h0.75M461.3 140.5h0.75M428.0 125.2h0.75M451.1 117.3h0.75M429.5 119.6h0.75M423.4 119.3h0.75M436.2 142.2h0.75M443.9 133.8h0.75M436.1 127.8h0.75M431.9 132.1h0.75M462.1 141.1h0.75M440.5 132.1h0.75M419.6 121.1h0.75M459.1 131.7h0.75M445.3 135.2h0.75M440.2 118.3h0.75M431.3 131.8h0.75M432.2 118.4h0.75M425.1 140.2h0.75M448.6 124.3h0.75M426.9 119.6h0.75M451.0 121.5h0.75M466.3 117.2h0.75M442.8 122.6h0.75M457.7 134.5h0.75M443.2 124.9h0.75M466.6 139.1h0.75M439.1 131.6h0.75M462.6 129.7h0.75M447.4 135.9h0.75M469.6 126.8h0.75M445.8 138.1h0.75M423.9 129.4h0.75M440.3 117.7h0.75M430.2 134.2h0.75M464.5 144.8h0.75M445.4 125.9h0.75M461.3 141.7h0.75M446.3 116.9h0.75M424.4 138.6h0.75M467.1 125.8h0.75M429.0 133.0h0.75M464.3 128.3h0.75M421.1 139.4h0.75M426.2 135.2h0.75M452.5 126.3h0.75M433.0 136.4h0.75M443.3 138.5h0.75M420.1 135.4h0.75M451.5 142.9h0.75M433.5 121.4h0.75M465.6 137.6h0.75M463.3 136.0h0.75M425.0 129.3h0.75M443.7 136.8h0.75M463.7 124.1h0.75M463.6 127.3h0.75M446.0 141.0h0.75M442.0 121.7h0.75M432.3 120.5h0.75M446.4 129.0h0.75M432.1 124.3h0.75M432.6 133.3h0.75M441.3 128.4h0.75M443.2 124.8h0.75M439.0 135.0h0.75M446.6 117.0h0.75M430.2 137.5h0.75M474.1 131.6h0.75M423.4 126.4h0.75M432.2 129.7h0.75M425.9 126.7h0.75M427.3 138.8h0.75M422.8 139.1h0.75M428.9 143.7h0.75M431.0 132.6h0.75M442.1 132.5h0.75M456.9 137.7h0.75M419.9 135.9h0.75M462.6 135.3h0.75M417.8 117.4h0.75M463.4 145.2h0.75M425.5 131.1h0.75M458.8 136.1h0.75M448.7 133.7h0.75M463.3 138.1h0.75M427.1 125.7h0.75M445.6 129.2h0.75M437.9 141.2h0.75M458.1 117.5h0.75M463.6 129.7h0.75M461.7 124.1h0.75M429.8 121.0h0.75M429.8 143.1h0.75M426.9 133.8h0.75M417.4 126.1h0.75M455.9 127.1h0.75M446.8 117.1h0.75M422.4 114.6h0.75M466.5 142.5h0.75M431.8 128.7h0.75M429.9 117.9h0.75M421.6 142.6h0.75M468.8 134.8h0.75M452.8 138.7h0.75M418.2 130.6h0.75M453.0 139.2h0.75M440.2 133.8h0.75M426.6 136.3h0.75M434.1 124.6h0.75M419.6 131.6h0.75M420.1 124.5h0.75M437.3 143.5h0.75M460.8 142.7h0.75M436.3 133.7h0.75M460.1 122.7h0.75M419.5 135.1h0.75M433.2 120.6h0.75M426.9 142.2h0.75M425.9 127.5h0.75M462.3 139.0h0.75M424.8 134.6h0.75M431.5 136.8h0.75M440.0 142.0h0.75M445.2 131.9h0.75M448.8 131.7h0.75M437.4 119.5h0.75M430.3 130.1h0.75M449.7 128.9h0.75M433.8 138.7h0.75M427.5 130.6h0.75M429.3 128.4h0.75M473.4 128.5h0.75M463.6 136.1h0.75M429.9 123.0h0.75M442.1 120.8h0.75M464.6 119.8h0.75M425.2 141.3h0.75M444.1 128.7h0.75M466.8 144.1h0.75M453.9 142.0h0.75M432.5 120.4h0.75M430.7 129.4h0.75M438.4 132.8h0.75M431.6 118.9h0.75M421.0 138.3h0.75M453.7 120.7h0.75M462.1 132.1h0.75M446.9 134.2h0.75M429.7 138.5h0.75M470.6 119.7h0.75M419.8 135.5h0.75M420.2 134.9h0.75M444.7 140.9h0.75M423.7 121.5h0.75M465.4 135.0h0.75M437.2 138.4h0.75M419.0 125.2h0.75M441.6 121.1h0.75M434.1 141.5h0.75M417.8 117.8h0.75M429.5 117.8h0.75M423.3 139.6h0.75M443.3 131.8h0.75M428.6 135.7h0.75M419.6 121.0h0.75M472.3 126.4h0.75M446.1 123.8h0.75M418.8 124.5h0.75M433.4 130.2h0.75M434.3 115.4h0.75M420.7 119.9h0.75M433.2 140.7h0.75M436.2 139.9h0.75M458.9 136.0h0.75M452.0 128.6h0.75M433.8 131.6h0.75M423.1 136.4h0.75M460.4 127.6h0.75M425.7 122.2h0.75M458.2 125.3h0.75M429.2 136.7h0.75M424.6 126.8h0.75M431.9 124.4h0.75M428.5 140.8h0.75M455.1 134.5h0.75M430.0 138.2h0.75M461.4 143.0h0.75M473.1 130.1h0.75M468.5 140.6h0.75M425.8 133.4h0.75M439.5 129.7h0.75M457.9 116.9h0.75M443.4 138.6h0.75M460.0 121.0h0.75M447.2 117.6h0.75M437.1 142.6h0.75M460.6 140.3h0.75M431.8 141.2h0.75M446.7 135.2h0.75M439.4 122.8h0.75M426.5 129.5h0.75M435.4 119.0h0.75M454.0 117.9h0.75M467.0 139.9h0.75M440.6 137.1h0.75M463.0 117.1h0.75M464.8 138.7h0.75M436.0 116.7h0.75M466.4 130.3h0.75M421.0 124.0h0.75M468.8 136.6h0.75M423.3 128.4h0.75M440.8 130.7h0.75M438.6 132.1h0.75M431.2 127.0h0.75M422.1 128.9h0.75M459.8 129.8h0.75M447.8 135.1h0.75M426.1 120.9h0.75M463.7 139.0h0.75M455.3 139.2h0.75M425.4 117.9h0.75M440.5 144.4h0.75M471.0 136.6h0.75M421.9 136.4h0.75M431.0 116.3h0.75M419.4 134.6h0.75M428.7 130.7h0.75M441.0 140.2h0.75M422.3 125.1h0.75M433.7 124.1h0.75M415.7 129.6h0.75M471.7 139.1h0.75M425.7 135.1h0.75M438.4 126.8h0.75M438.6 115.3h0.75M424.9 125.1h0.75M448.3 138.2h0.75M456.6 125.4h0.75M421.1 125.6h0.75M424.3 136.1h0.75M463.5 136.0h0.75M422.7 127.7h0.75M456.5 138.6h0.75M423.5 129.7h0.75M416.0 138.8h0.75M422.8 118.0h0.75M457.8 124.2h0.75M435.2 129.5h0.75M457.5 133.6h0.75M452.4 136.1h0.75M463.1 123.3h0.75M441.9 139.1h0.75M422.9 132.1h0.75M447.2 138.2h0.75M442.7 139.0h0.75M460.7 124.3h0.75M451.7 124.6h0.75M418.0 128.8h0.75M425.3 130.6h0.75M468.8 140.1h0.75M427.1 129.0h0.75M460.8 135.5h0.75M442.0 129.1h0.75M420.5 123.7h0.75M469.0 134.8h0.75M472.2 120.5h0.75M472.9 142.4h0.75M441.8 141.3h0.75M426.0 135.9h0.75M427.0 136.3h0.75M468.2 122.2h0.75M431.3 142.0h0.75M429.4 141.5h0.75M416.5 137.5h0.75M461.5 132.6h0.75M432.6 129.8h0.75M428.8 134.2h0.75M471.7 130.7h0.75M423.5 122.5h0.75M448.1 141.8h0.75M465.7 127.6h0.75M465.8 139.2h0.75M429.0 130.9h0.75M424.6 129.6h0.75M468.7 141.4h0.75M464.6 137.2h0.75M431.4 135.0h0.75M444.0 135.8h0.75M449.9 122.8h0.75M468.6 131.5h0.75M431.2 124.5h0.75M422.2 128.2h0.75M437.2 125.4h0.75M454.0 117.1h0.75M441.5 134.7h0.75M460.0 140.7h0.75M446.2 116.9h0.75M449.6 140.4h0.75M416.3 130.3h0.75M462.4 135.5h0.75M426.1 138.6h0.75M435.0 132.6h0.75M459.6 126.4h0.75M433.7 125.7h0.75M438.0 138.4h0.75M445.6 120.1h0.75M451.1 120.7h0.75M444.2 135.6h0.75M433.8 128.1h0.75M445.9 116.9h0.75M454.7 143.5h0.75M433.8 130.1h0.75M429.1 119.1h0.75M415.7 122.7h0.75M469.2 134.4h0.75M432.9 135.5h0.75M466.5 140.9h0.75M443.8 136.4h0.75M416.2 128.4h0.75M438.3 139.6h0.75M426.7 130.4h0.75M432.1 116.0h0.75M441.9 123.5h0.75M435.5 145.1h0.75M424.9 120.7h0.75M469.3 131.2h0.75M444.4 121.6h0.75M438.6 141.8h0.75M422.8 131.8h0.75M459.7 130.6h0.75M473.6 129.2h0.75M447.4 130.2h0.75M435.4 134.4h0.75M459.2 139.3h0.75M471.8 126.8h0.75M462.2 127.5h0.75M467.0 117.7h0.75M444.3 133.3h0.75M429.2 142.9h0.75M423.0 141.7h0.75M434.3 137.4h0.75M428.8 120.9h0.75M465.4 123.7h0.75M429.1 139.8h0.75M427.7 141.2h0.75M428.5 137.7h0.75M418.1 119.5h0.75M434.7 128.3h0.75M433.4 134.2h0.75M438.3 138.3h0.75M469.5 117.0h0.75M441.6 119.5h0.75M425.0 142.4h0.75M439.1 132.0h0.75M423.1 119.9h0.75M465.2 131.4h0.75M417.8 122.4h0.75M435.9 136.6h0.75M471.4 121.1h0.75M425.1 143.6h0.75M457.4 128.4h0.75M470.1 119.5h0.75M431.7 117.5h0.75M435.1 130.9h0.75M416.0 140.1h0.75M435.9 121.3h0.75M426.1 120.7h0.75M427.6 134.6h0.75M446.0 116.1h0.75M469.7 142.9h0.75M461.3 138.8h0.75M429.5 130.5h0.75M438.0 123.7h0.75M430.2 135.1h0.75M470.1 141.7h0.75M431.2 134.7h0.75M465.1 120.4h0.75M437.5 138.4h0.75M464.9 138.0h0.75M431.5 139.2h0.75M439.3 117.9h0.75M468.5 135.9h0.75M446.3 133.4h0.75M468.3 121.1h0.75M428.4 134.7h0.75M460.0 138.5h0.75M424.7 140.7h0.75M451.5 119.1h0.75M436.0 142.1h0.75M463.1 137.0h0.75M453.0 134.4h0.75M456.3 128.2h0.75M432.4 127.5h0.75M424.1 139.6h0.75M426.7 122.5h0.75M430.7 137.0h0.75M470.9 123.3h0.75M469.1 128.3h0.75M463.5 129.6h0.75M468.7 139.2h0.75M447.9 128.0h0.75M425.9 119.3h0.75M429.5 135.8h0.75M453.2 116.1h0.75M465.5 126.2h0.75M448.7 132.2h0.75M417.1 119.3h0.75M451.2 121.5h0.75M460.0 135.3h0.75M418.1 127.5h0.75M452.7 128.2h0.75M443.4 131.2h0.75M432.8 121.8h0.75M435.2 122.5h0.75M454.5 123.5h0.75M427.2 131.9h0.75M453.3 141.9h0.75M430.5 131.1h0.75M446.1 121.8h0.75M451.6 117.2h0.75M417.9 135.9h0.75M429.8 141.3h0.75M462.5 125.2h0.75M423.9 136.2h0.75M432.8 120.7h0.75M437.9 125.3h0.75M421.6 119.5h0.75M429.0 139.6h0.75M415.8 120.0h0.75M468.6 137.7h0.75M427.7 118.8h0.75M430.6 122.4h0.75M438.4 139.3h0.75M468.3 132.6h0.75M419.5 126.3h0.75M451.9 135.0h0.75M436.4 135.7h0.75M445.6 127.2h0.75M470.6 124.9h0.75M448.2 137.4h0.75M417.0 122.7h0.75M430.6 121.6h0.75M441.4 129.7h0.75M441.6 114.7h0.75M431.4 117.7h0.75M424.6 119.5h0.75M465.8 137.4h0.75M420.4 139.7h0.75M465.5 136.7h0.75M435.4 143.5h0.75M456.6 130.3h0.75M414.9 134.1h0.75M454.9 138.2h0.75M437.0 140.8h0.75M430.4 127.6h0.75M464.8 124.6h0.75M446.5 129.1h0.75M419.1 119.4h0.75M424.8 117.0h0.75M456.2 140.6h0.75M427.2 122.5h0.75M466.9 132.2h0.75M435.4 121.8h0.75M466.0 138.4h0.75M457.6 143.2h0.75M421.4 119.2h0.75M422.4 120.9h0.75M427.3 128.2h0.75M453.3 134.7h0.75M454.2 126.9h0.75M427.7 126.2h0.75M425.8 136.6h0.75M464.3 139.9h0.75M464.5 129.2h0.75M435.9 119.2h0.75M418.8 142.8h0.75M418.7 123.4h0.75M467.7 132.5h0.75M424.1 131.0h0.75M427.9 134.9h0.75M466.8 134.1h0.75M438.5 131.3h0.75M468.4 138.0h0.75M446.2 135.5h0.75M470.0 136.2h0.75M418.8 136.9h0.75M422.3 121.8h0.75M469.4 133.9h0.75M426.0 130.9h0.75M419.2 129.6h0.75M446.9 122.9h0.75M426.3 133.3h0.75M440.6 134.7h0.75M430.7 131.1h0.75M466.4 125.2h0.75M445.0 129.8h0.75M451.7 140.8h0.75M452.1 131.0h0.75M416.8 142.4h0.75M462.1 122.4h0.75M450.5 136.6h0.75M435.0 133.8h0.75M432.8 115.9h0.75M473.7 129.8h0.75M449.7 117.1h0.75M437.3 141.6h0.75M421.6 118.3h0.75M427.0 132.8h0.75M431.8 125.4h0.75M435.4 124.4h0.75M437.1 137.2h0.75M444.4 119.5h0.75M446.6 140.7h0.75M430.2 139.0h0.75M437.3 127.3h0.75M450.2 139.6h0.75M457.6 137.2h0.75M423.3 128.0h0.75M424.5 139.2h0.75M470.0 141.5h0.75M452.1 138.5h0.75M449.1 122.1h0.75M417.6 122.8h0.75M452.4 139.8h0.75M419.9 123.5h0.75M448.6 117.2h0.75M442.1 128.4h0.75M421.6 139.7h0.75M449.1 130.7h0.75M429.2 138.6h0.75M462.8 118.0h0.75M422.7 129.7h0.75M451.9 124.5h0.75M438.6 120.7h0.75M428.2 137.0h0.75M456.0 122.8h0.75M432.1 126.3h0.75M443.8 140.4h0.75M427.2 128.5h0.75M433.6 119.3h0.75M466.2 135.1h0.75M470.1 142.6h0.75M446.7 132.6h0.75M427.1 122.7h0.75M432.2 125.7h0.75M421.9 96.3h0.75M422.3 110.7h0.75M420.8 88.4h0.75M423.7 96.3h0.75M421.9 111.3h0.75M423.2 78.8h0.75M424.4 86.6h0.75M422.8 94.9h0.75M421.9 95.7h0.75M423.7 106.1h0.75M434.1 92.9h0.75M423.5 111.3h0.75M431.2 107.8h0.75M424.2 119.4h0.75M425.4 111.9h0.75M423.2 87.5h0.75M429.9 91.0h0.75M421.4 101.3h0.75M421.8 106.7h0.75M425.4 97.8h0.75M423.2 114.6h0.75M430.0 111.3h0.75M420.5 116.6h0.75M425.5 117.1h0.75M427.0 93.1h0.75M419.3 93.2h0.75M429.4 95.4h0.75M430.9 87.0h0.75M427.4 98.8h0.75M420.2 103.7h0.75M423.7 97.0h0.75M417.8 89.8h0.75M422.8 98.4h0.75M423.7 102.0h0.75M424.0 112.7h0.75M427.1 110.0h0.75M419.7 101.5h0.75M424.6 106.4h0.75M422.8 101.4h0.75M421.7 96.3h0.75M426.4 94.9h0.75M422.1 98.5h0.75M426.3 104.1h0.75M420.9 95.6h0.75M421.0 89.8h0.75M433.5 112.1h0.75M427.6 97.0h0.75M428.1 115.5h0.75M429.4 107.2h0.75M427.8 108.7h0.75M426.3 103.7h0.75M423.7 82.8h0.75M426.8 106.8h0.75M425.0 107.7h0.75M424.5 99.1h0.75M427.3 82.7h0.75M430.0 96.1h0.75M427.0 106.1h0.75M430.7 117.0h0.75M420.5 90.3h0.75M425.7 83.4h0.75M427.2 98.7h0.75M422.3 108.5h0.75M421.7 92.4h0.75M425.0 108.7h0.75M424.3 96.5h0.75M425.7 96.2h0.75M418.5 109.3h0.75M426.7 111.1h0.75M425.5 104.7h0.75M419.1 86.1h0.75M418.2 111.9h0.75M422.5 113.4h0.75M426.5 95.4h0.75M424.6 91.9h0.75M423.4 103.4h0.75M427.4 95.0h0.75M419.4 111.5h0.75M421.1 107.2h0.75M419.6 90.8h0.75M417.9 106.6h0.75M431.6 101.3h0.75M417.7 97.7h0.75M425.8 103.7h0.75M425.5 89.8h0.75M423.8 119.1h0.75M423.0 96.0h0.75M420.7 93.7h0.75M429.2 103.7h0.75M423.1 96.3h0.75M427.8 94.2h0.75M422.1 96.8h0.75M422.0 107.6h0.75M424.9 110.2h0.75M426.8 97.8h0.75M426.0 79.0h0.75M420.9 79.3h0.75M426.1 85.2h0.75M419.4 103.8h0.75M427.1 97.9h0.75M430.0 102.4h0.75M432.1 108.5h0.75M427.6 107.8h0.75M430.2 106.0h0.75M426.3 103.2h0.75M425.6 105.7h0.75M430.6 83.7h0.75M423.3 85.2h0.75M422.8 102.8h0.75M425.5 103.9h0.75M427.5 104.4h0.75M423.7 98.8h0.75M421.1 95.5h0.75M424.5 103.8h0.75M419.2 111.1h0.75M424.6 84.3h0.75M424.3 105.8h0.75M425.2 95.8h0.75M421.7 102.2h0.75M425.4 103.0h0.75M423.5 112.3h0.75M418.4 99.9h0.75M419.0 80.4h0.75M425.5 108.4h0.75M423.8 104.5h0.75M424.2 111.6h0.75M422.7 105.4h0.75M426.0 84.1h0.75M429.0 94.1h0.75M420.8 93.4h0.75M427.9 95.9h0.75M427.6 90.5h0.75M425.7 82.6h0.75M423.8 113.0h0.75M422.9 101.8h0.75M418.4 116.7h0.75M424.0 104.5h0.75M423.4 89.6h0.75M423.6 96.7h0.75M421.1 98.4h0.75M421.3 95.0h0.75M425.9 102.2h0.75M423.9 104.1h0.75M430.8 103.5h0.75M425.2 99.1h0.75M426.0 106.4h0.75M428.1 104.7h0.75M422.6 98.8h0.75M422.1 113.3h0.75M422.3 83.8h0.75M424.0 91.4h0.75M425.4 101.4h0.75M421.8 84.6h0.75M423.6 87.0h0.75M424.1 101.7h0.75M423.3 101.5h0.75M423.3 116.4h0.75M418.5 89.1h0.75M428.7 87.7h0.75M426.9 97.7h0.75M424.7 85.9h0.75M423.3 98.4h0.75M425.2 96.4h0.75M419.4 111.3h0.75M424.2 88.6h0.75M421.5 102.8h0.75M422.7 106.9h0.75M420.3 102.4h0.75M426.2 105.0h0.75M421.8 90.4h0.75M420.6 100.8h0.75M423.7 111.8h0.75M423.5 112.9h0.75M423.7 109.9h0.75M428.1 102.7h0.75M420.2 104.0h0.75M425.2 96.8h0.75M423.8 106.7h0.75M430.2 93.2h0.75M428.9 95.3h0.75M423.6 96.4h0.75M424.5 92.3h0.75M422.5 97.6h0.75M421.4 99.2h0.75M428.2 91.6h0.75M425.3 92.3h0.75M420.6 99.7h0.75M423.6 109.6h0.75M427.0 100.7h0.75M422.3 113.2h0.75M420.0 92.3h0.75M427.1 103.8h0.75M426.8 97.6h0.75M427.1 111.3h0.75M417.9 105.0h0.75M428.0 89.6h0.75M421.3 103.4h0.75M426.7 99.6h0.75M418.9 101.8h0.75M424.2 96.1h0.75M428.2 78.8h0.75M424.9 93.8h0.75M426.6 96.6h0.75M430.6 101.5h0.75M422.7 83.8h0.75M423.7 99.3h0.75M430.0 103.4h0.75M425.2 90.8h0.75M425.3 90.3h0.75M419.7 104.1h0.75M423.0 86.6h0.75M428.5 111.7h0.75M426.1 83.6h0.75M421.7 90.2h0.75M427.7 98.6h0.75M421.7 86.1h0.75M422.1 101.4h0.75M423.7 104.7h0.75M426.4 88.6h0.75M427.5 100.0h0.75M430.2 98.4h0.75M423.4 98.5h0.75M428.9 104.8h0.75M428.7 109.8h0.75M424.3 97.5h0.75M428.5 88.4h0.75M425.7 109.5h0.75M421.5 81.2h0.75M419.7 110.8h0.75M433.3 91.0h0.75M420.1 87.4h0.75M430.1 107.1h0.75M427.0 92.6h0.75M427.0 92.5h0.75M426.6 92.3h0.75M420.3 95.3h0.75M426.1 102.9h0.75M422.8 108.6h0.75M419.1 80.4h0.75M426.7 98.1h0.75M424.5 95.2h0.75M426.5 101.8h0.75M429.5 90.4h0.75M420.3 98.4h0.75M423.8 96.7h0.75M430.6 103.2h0.75M429.0 105.5h0.75M425.6 103.5h0.75M428.5 104.1h0.75M427.0 99.0h0.75M422.1 103.1h0.75M423.3 105.3h0.75M429.3 114.5h0.75M426.1 89.3h0.75M423.4 88.2h0.75M426.2 99.8h0.75M425.3 81.5h0.75M419.5 78.1h0.75M429.7 104.5h0.75M425.0 96.1h0.75M417.9 129.2h0.75M423.9 126.0h0.75M430.1 117.8h0.75M426.5 137.3h0.75M429.3 121.4h0.75M432.0 130.6h0.75M424.6 134.1h0.75M430.5 132.6h0.75M424.3 133.2h0.75M425.9 125.4h0.75M434.2 142.0h0.75M432.3 125.3h0.75M423.2 122.3h0.75M425.3 140.9h0.75M430.0 132.1h0.75M426.9 135.1h0.75M425.2 124.5h0.75M422.8 143.1h0.75M421.7 123.9h0.75M428.4 129.4h0.75M424.4 132.8h0.75M425.3 120.4h0.75M430.0 133.3h0.75M433.5 137.6h0.75M423.3 128.8h0.75M422.7 116.6h0.75M429.2 127.1h0.75M430.3 133.0h0.75M425.4 142.9h0.75M421.8 143.8h0.75M431.1 128.2h0.75M433.7 134.7h0.75M427.5 129.0h0.75M425.7 128.9h0.75M424.5 137.3h0.75M429.6 140.4h0.75M431.3 131.3h0.75M429.3 130.1h0.75M428.5 136.1h0.75M427.7 126.3h0.75M420.8 143.6h0.75M422.5 127.6h0.75M427.7 129.2h0.75M427.9 141.2h0.75M419.2 132.5h0.75M428.7 122.2h0.75M429.3 142.0h0.75M426.2 135.1h0.75M424.7 138.6h0.75M423.8 131.9h0.75M423.1 126.9h0.75M431.1 131.5h0.75M430.0 120.9h0.75M420.8 125.6h0.75M434.5 139.9h0.75M435.9 128.8h0.75M428.7 134.4h0.75M424.9 136.0h0.75M425.9 135.2h0.75M418.2 124.7h0.75M421.6 143.4h0.75M429.9 125.2h0.75M428.3 128.0h0.75M421.0 125.5h0.75M439.2 132.5h0.75M425.6 140.4h0.75M427.3 124.3h0.75M429.6 126.0h0.75M425.8 132.7h0.75M426.1 128.1h0.75M424.9 129.6h0.75M431.2 133.4h0.75M428.0 131.4h0.75M418.3 135.9h0.75M429.1 124.8h0.75M421.0 127.9h0.75M420.2 114.8h0.75M424.3 127.8h0.75M426.6 140.1h0.75M422.0 121.2h0.75M425.6 136.5h0.75M432.4 138.3h0.75M426.6 132.2h0.75M418.4 136.6h0.75M429.5 131.3h0.75M424.7 134.7h0.75M428.0 135.4h0.75M427.9 121.4h0.75M423.6 120.5h0.75M422.5 130.9h0.75M427.2 127.0h0.75M433.6 133.3h0.75M428.2 126.7h0.75M431.9 130.0h0.75M422.5 130.4h0.75M431.0 126.4h0.75M425.0 137.9h0.75M424.8 138.0h0.75M431.5 128.5h0.75M420.8 123.7h0.75M431.7 135.6h0.75M426.4 129.2h0.75M430.8 128.6h0.75M438.1 134.0h0.75M418.9 139.1h0.75M427.2 131.8h0.75M425.2 140.0h0.75M423.9 142.5h0.75M422.7 138.1h0.75M419.4 138.4h0.75M421.7 130.2h0.75M429.4 126.6h0.75M428.4 131.8h0.75M431.8 138.0h0.75M427.1 130.5h0.75M422.0 141.5h0.75M425.0 123.2h0.75M422.5 118.9h0.75M422.1 128.8h0.75M427.1 138.1h0.75M429.6 119.4h0.75M423.9 135.9h0.75M427.5 131.7h0.75M422.5 136.6h0.75M425.6 130.1h0.75M425.5 130.2h0.75M427.3 139.3h0.75M426.3 127.4h0.75M425.4 130.7h0.75M428.1 137.0h0.75M433.2 137.9h0.75M418.5 126.0h0.75M420.4 133.8h0.75M436.3 134.9h0.75M423.5 141.2h0.75M428.7 126.2h0.75M421.7 141.8h0.75M429.3 117.5h0.75M422.6 135.6h0.75M420.0 131.7h0.75M422.1 120.4h0.75M423.6 128.1h0.75M427.2 120.0h0.75M427.1 129.3h0.75M418.8 140.0h0.75M423.9 134.6h0.75M432.8 134.6h0.75M430.1 133.2h0.75M423.3 133.1h0.75M418.9 135.1h0.75M429.6 134.7h0.75M422.9 123.5h0.75M422.6 129.8h0.75M419.6 144.9h0.75M422.3 132.6h0.75M423.8 132.6h0.75M425.8 131.5h0.75M427.6 128.1h0.75M429.5 133.3h0.75M425.7 131.9h0.75M430.6 131.5h0.75M432.8 132.6h0.75M427.0 131.8h0.75M427.2 134.9h0.75M423.1 137.2h0.75M437.3 135.4h0.75M426.4 126.3h0.75M422.5 126.2h0.75M427.0 127.1h0.75M433.0 128.9h0.75M421.9 125.6h0.75M425.4 130.8h0.75M430.0 126.8h0.75M427.4 138.3h0.75M424.6 119.9h0.75M426.9 138.7h0.75M427.6 131.8h0.75M417.3 142.8h0.75M425.0 123.7h0.75M424.4 132.8h0.75M426.1 125.6h0.75M436.6 140.2h0.75M430.3 136.1h0.75M424.1 123.8h0.75M420.2 139.1h0.75M426.2 142.9h0.75M427.9 128.0h0.75M429.8 127.2h0.75M424.6 135.3h0.75M426.6 133.7h0.75M426.8 138.8h0.75M422.1 118.1h0.75M421.8 115.3h0.75M434.5 127.3h0.75M425.7 134.0h0.75M422.4 128.4h0.75M427.0 131.8h0.75M429.5 130.1h0.75M422.9 121.8h0.75M418.3 133.5h0.75M427.2 129.0h0.75M428.7 123.6h0.75M424.3 130.2h0.75M422.5 129.8h0.75M425.8 136.6h0.75M429.5 125.3h0.75M428.0 129.0h0.75M429.8 127.8h0.75M430.6 125.6h0.75M423.7 137.5h0.75M430.4 137.7h0.75M434.7 138.7h0.75M425.8 138.1h0.75M422.1 137.3h0.75M427.6 130.7h0.75M422.6 139.0h0.75M419.5 129.4h0.75M423.9 126.1h0.75M423.1 133.7h0.75M434.6 143.6h0.75M425.0 128.9h0.75M428.6 126.0h0.75M419.2 138.4h0.75M424.0 142.2h0.75M427.3 121.8h0.75M427.1 135.1h0.75M426.1 122.4h0.75M419.1 144.5h0.75M429.4 144.0h0.75M428.7 131.6h0.75M427.5 139.6h0.75M423.5 140.5h0.75M427.0 133.2h0.75M427.8 133.9h0.75M421.7 142.4h0.75M423.7 129.9h0.75M428.4 131.1h0.75M425.4 129.2h0.75M428.6 127.3h0.75M419.2 120.6h0.75M422.3 133.9h0.75M432.3 135.6h0.75M422.8 122.7h0.75M429.5 135.2h0.75M425.6 136.0h0.75M428.5 135.2h0.75M431.8 121.2h0.75M422.9 128.1h0.75M427.4 134.6h0.75M429.4 130.1h0.75M429.6 130.4h0.75M429.2 135.6h0.75M431.7 121.3h0.75M421.7 126.5h0.75M422.2 134.4h0.75M430.2 129.4h0.75M430.6 137.9h0.75M423.2 136.3h0.75M432.3 128.5h0.75M427.1 136.0h0.75M428.2 131.4h0.75M425.8 126.3h0.75M434.6 142.4h0.75M425.2 125.9h0.75M427.8 142.8h0.75M426.1 126.1h0.75M430.1 133.5h0.75M422.3 130.3h0.75M426.6 124.2h0.75M427.2 140.6h0.75M430.6 140.4h0.75M429.2 131.2h0.75M428.6 140.2h0.75M426.1 135.4h0.75M423.1 131.9h0.75M423.7 124.5h0.75M418.4 128.5h0.75M426.8 126.8h0.75M426.6 137.7h0.75M418.7 131.2h0.75M428.5 135.8h0.75M434.0 133.3h0.75M431.4 128.0h0.75M421.9 128.2h0.75M424.0 138.0h0.75M429.3 132.0h0.75M421.9 132.9h0.75M424.1 129.3h0.75M418.2 142.7h0.75M437.9 132.3h0.75M435.8 129.1h0.75M438.3 131.6h0.75M417.8 131.9h0.75M429.5 143.7h0.75M430.3 144.1h0.75M426.8 121.4h0.75M426.7 125.9h0.75M429.7 117.3h0.75M421.6 123.9h0.75M426.4 139.1h0.75M450.6 76.9h0.75M445.7 104.1h0.75M485.4 110.6h0.75M420.9 130.1h0.75M426.9 93.3h0.75M469.8 113.2h0.75M464.8 103.4h0.75M437.6 84.1h0.75M446.7 67.2h0.75M455.0 119.4h0.75M446.0 139.6h0.75M462.7 129.9h0.75M436.6 112.8h0.75M423.9 62.7h0.75M416.0 98.2h0.75M465.3 98.9h0.75M482.9 110.5h0.75M458.0 111.0h0.75M481.1 146.1h0.75M423.9 110.2h0.75M446.6 108.2h0.75M446.4 85.8h0.75M482.3 113.9h0.75M440.5 142.7h0.75M451.9 113.4h0.75M453.6 111.6h0.75M429.9 95.9h0.75M453.3 105.8h0.75M447.4 132.7h0.75M452.1 87.0h0.75M490.8 104.9h0.75M484.1 120.9h0.75M451.3 131.3h0.75M422.8 78.5h0.75M447.5 102.9h0.75M415.9 82.8h0.75M487.8 122.2h0.75M462.9 139.5h0.75M460.3 137.4h0.75M483.3 94.2h0.75M472.5 134.6h0.75M464.8 97.8h0.75M479.0 135.2h0.75M457.5 120.2h0.75M461.1 114.0h0.75M466.6 98.2h0.75M475.5 116.5h0.75M499.4 114.9h0.75M460.6 78.5h0.75M445.7 101.2h0.75M458.0 105.3h0.75M498.6 96.2h0.75M452.4 97.0h0.75M472.5 68.5h0.75M481.8 98.9h0.75M423.7 143.0h0.75M426.2 124.5h0.75M458.3 91.7h0.75M418.1 90.6h0.75M476.1 105.9h0.75M444.1 130.7h0.75M458.8 109.4h0.75M437.1 74.5h0.75M446.7 114.5h0.75M447.9 114.9h0.75M451.7 101.7h0.75M456.8 115.9h0.75M453.0 96.8h0.75M481.2 135.1h0.75M485.4 124.9h0.75M468.7 110.5h0.75M476.0 91.7h0.75M454.7 115.0h0.75M454.3 77.7h0.75M455.6 97.4h0.75M442.4 122.1h0.75M483.6 109.4h0.75M430.2 103.2h0.75M453.3 82.2h0.75M443.2 110.7h0.75M443.6 117.8h0.75M426.3 122.8h0.75M440.9 110.2h0.75M458.2 95.0h0.75M482.7 64.8h0.75M462.4 122.4h0.75M451.8 105.6h0.75M430.2 106.0h0.75M461.7 92.9h0.75M458.0 98.3h0.75" stroke="#43579f" stroke-width="0.75" stroke-opacity="0.68" fill="none"/>
<path d="M421.8 96.9h0.75M422.4 105.4h0.75M422.4 110.1h0.75M424.2 97.4h0.75M422.5 101.4h0.75M421.8 83.9h0.75M427.0 92.9h0.75M428.0 99.7h0.75M428.2 84.6h0.75M423.2 99.9h0.75M422.9 98.2h0.75M423.9 103.4h0.75M425.8 87.3h0.75M428.2 84.5h0.75M422.2 102.1h0.75M423.8 103.6h0.75M425.2 90.7h0.75M420.3 107.8h0.75M423.7 96.6h0.75M423.5 95.2h0.75M422.5 98.0h0.75M424.9 86.5h0.75M420.4 102.5h0.75M426.4 92.7h0.75M423.9 93.1h0.75M425.2 96.9h0.75M422.9 90.8h0.75M425.3 100.8h0.75M423.2 101.1h0.75M422.8 99.6h0.75M427.3 101.0h0.75M421.3 105.4h0.75M423.6 104.8h0.75M420.9 83.1h0.75M420.4 102.7h0.75M427.1 99.7h0.75M424.7 96.5h0.75M424.7 88.5h0.75M427.2 104.6h0.75M426.6 96.8h0.75M426.3 106.1h0.75M430.3 107.1h0.75M422.4 90.5h0.75M426.4 101.9h0.75M425.6 98.0h0.75M422.3 98.8h0.75M420.7 100.0h0.75M429.8 103.9h0.75M422.2 89.9h0.75M430.1 103.2h0.75M423.0 102.6h0.75M423.5 88.2h0.75M424.6 102.0h0.75M427.4 86.5h0.75M427.9 95.4h0.75M419.4 106.2h0.75M426.7 102.2h0.75M426.3 89.6h0.75M425.5 83.1h0.75M422.7 119.8h0.75M428.3 101.0h0.75M425.5 98.3h0.75M425.8 99.3h0.75M422.0 94.4h0.75M419.6 89.9h0.75M423.9 100.9h0.75M429.7 83.2h0.75M429.4 93.8h0.75M423.2 96.8h0.75M429.6 88.0h0.75M423.4 102.4h0.75M426.6 101.0h0.75M424.6 106.2h0.75M421.9 111.4h0.75M423.1 100.9h0.75M422.0 92.2h0.75M426.7 102.6h0.75M423.8 104.7h0.75M419.2 99.2h0.75M420.1 106.5h0.75M422.3 97.5h0.75M422.2 115.7h0.75M428.0 82.6h0.75M425.9 94.9h0.75M427.9 100.5h0.75M422.5 93.8h0.75M424.4 112.5h0.75M424.5 93.0h0.75M423.3 105.0h0.75M423.5 113.0h0.75M426.5 98.9h0.75M424.5 94.7h0.75M428.0 95.8h0.75M425.0 85.7h0.75M423.8 99.2h0.75M424.1 98.1h0.75M426.7 103.9h0.75M426.2 92.5h0.75M423.0 97.6h0.75M420.4 85.0h0.75M425.1 97.7h0.75M424.5 108.1h0.75M419.0 101.2h0.75M423.7 86.1h0.75M425.9 110.0h0.75M420.7 98.0h0.75M426.7 98.0h0.75M423.2 106.2h0.75M420.1 97.2h0.75M422.7 97.0h0.75M421.2 99.2h0.75M427.3 101.6h0.75M421.1 93.1h0.75M422.4 84.6h0.75M426.1 102.0h0.75M423.8 110.6h0.75M426.1 92.5h0.75M424.4 96.4h0.75M424.3 109.2h0.75M427.4 89.2h0.75M429.1 83.6h0.75M423.6 119.1h0.75M426.0 108.0h0.75M424.6 102.2h0.75M422.7 110.6h0.75M423.8 93.0h0.75M420.6 116.9h0.75M420.6 88.7h0.75M425.5 98.0h0.75M428.6 103.2h0.75M425.1 90.8h0.75M425.6 85.1h0.75M422.4 109.9h0.75M425.0 87.6h0.75M422.7 96.6h0.75M425.1 99.5h0.75M426.1 81.3h0.75M423.2 98.9h0.75M426.9 92.3h0.75M421.0 90.5h0.75M424.9 118.9h0.75M421.3 93.2h0.75M422.6 107.7h0.75M425.7 96.4h0.75M425.1 111.7h0.75M423.6 87.9h0.75M424.4 86.9h0.75M424.9 105.4h0.75M423.4 105.9h0.75M427.3 114.0h0.75M423.4 102.9h0.75M426.3 104.9h0.75M426.7 102.1h0.75M426.0 105.9h0.75M425.5 102.9h0.75M425.0 97.3h0.75M419.9 97.2h0.75M424.4 93.0h0.75M423.2 108.9h0.75M423.0 96.8h0.75M427.4 100.5h0.75M425.6 93.1h0.75M422.9 83.9h0.75M425.9 98.1h0.75M422.6 98.4h0.75M427.0 106.1h0.75M426.3 108.0h0.75M424.9 97.9h0.75M424.3 102.1h0.75M420.2 100.4h0.75M426.7 127.3h0.75M424.1 140.3h0.75M424.9 132.3h0.75M432.9 126.8h0.75M426.4 130.3h0.75M424.3 131.8h0.75M428.9 131.2h0.75M430.6 137.6h0.75M422.0 133.3h0.75M425.8 124.7h0.75M418.9 139.3h0.75M427.8 140.7h0.75M433.2 137.8h0.75M428.1 141.0h0.75M426.0 130.4h0.75M430.7 137.1h0.75M424.3 130.3h0.75M424.9 129.8h0.75M424.0 129.7h0.75M427.1 133.2h0.75M429.9 117.2h0.75M427.1 143.5h0.75M426.8 129.2h0.75M435.0 129.7h0.75M429.5 134.4h0.75M425.9 126.6h0.75M427.2 134.2h0.75M434.3 123.3h0.75M420.0 136.4h0.75M420.2 115.0h0.75M425.1 140.1h0.75M418.8 123.4h0.75M432.8 127.3h0.75M422.8 131.9h0.75M433.4 131.7h0.75M429.8 131.9h0.75M422.0 134.6h0.75M418.8 139.4h0.75M419.7 133.8h0.75M428.3 128.2h0.75M434.8 132.9h0.75M428.4 123.6h0.75M424.4 134.3h0.75M429.7 136.6h0.75M420.6 123.5h0.75M421.8 140.0h0.75M419.0 125.1h0.75M427.0 132.5h0.75M426.2 127.6h0.75M428.0 132.1h0.75M425.7 134.3h0.75M425.5 131.7h0.75M431.3 137.3h0.75M426.8 133.7h0.75M432.3 124.4h0.75M418.3 133.0h0.75M419.2 126.1h0.75M427.4 134.1h0.75M425.0 128.0h0.75M420.3 128.3h0.75M423.0 132.6h0.75M430.4 131.0h0.75M421.7 135.5h0.75M431.6 134.8h0.75M424.6 130.4h0.75M425.1 126.2h0.75M430.4 130.9h0.75M434.6 140.4h0.75M424.5 127.9h0.75M419.0 132.9h0.75M428.1 130.5h0.75M426.0 135.8h0.75M423.1 132.5h0.75M425.4 142.3h0.75M429.3 132.2h0.75M422.1 131.9h0.75M423.1 130.6h0.75M427.9 137.9h0.75M430.7 129.2h0.75M427.3 132.6h0.75M430.8 138.5h0.75M427.5 136.1h0.75M418.1 135.0h0.75M425.8 132.6h0.75M427.6 125.3h0.75M424.9 138.1h0.75M429.5 134.1h0.75M428.8 127.9h0.75M432.8 119.9h0.75M425.0 128.1h0.75M424.5 134.3h0.75M427.0 139.0h0.75M434.5 136.1h0.75M422.6 133.0h0.75M423.2 127.9h0.75M424.8 138.8h0.75M423.1 135.0h0.75M423.3 138.4h0.75M431.4 123.9h0.75M429.6 127.5h0.75M427.9 132.3h0.75M430.1 125.0h0.75M434.5 135.1h0.75M423.8 140.8h0.75M432.2 136.2h0.75M424.4 127.9h0.75M422.7 143.0h0.75M426.7 132.8h0.75M425.0 140.6h0.75M425.0 138.3h0.75M419.0 128.0h0.75M427.9 126.9h0.75M434.5 120.1h0.75M428.1 136.3h0.75M428.4 132.5h0.75M427.6 129.1h0.75M426.4 144.2h0.75M426.4 139.8h0.75M432.2 129.4h0.75M434.6 123.6h0.75M424.4 132.4h0.75M425.4 136.7h0.75M426.0 136.7h0.75M423.1 123.1h0.75M434.1 134.6h0.75M428.2 125.7h0.75M428.4 132.7h0.75M428.5 133.7h0.75M430.9 141.7h0.75M425.0 130.6h0.75M429.6 123.9h0.75M423.5 130.7h0.75M425.4 131.6h0.75M421.5 136.4h0.75M424.6 125.5h0.75M427.9 142.6h0.75M420.3 132.8h0.75M435.6 131.7h0.75M423.5 143.0h0.75M427.5 138.8h0.75M433.4 137.0h0.75M420.2 125.9h0.75M425.6 129.1h0.75M425.8 121.2h0.75M419.7 137.5h0.75M425.7 135.6h0.75M424.9 132.9h0.75M420.2 144.1h0.75M430.9 124.6h0.75M424.6 135.2h0.75M424.7 132.7h0.75M427.4 121.4h0.75M429.6 136.0h0.75M422.4 131.8h0.75M426.1 131.3h0.75M426.7 123.4h0.75M426.8 135.6h0.75M428.1 135.8h0.75M424.1 133.9h0.75M430.5 133.5h0.75M427.4 133.4h0.75M428.7 124.9h0.75M426.3 138.3h0.75M422.7 136.6h0.75M424.6 130.3h0.75M421.8 127.3h0.75M431.4 123.8h0.75M427.1 124.4h0.75M435.0 137.4h0.75M423.2 125.8h0.75M425.3 135.1h0.75M433.5 142.2h0.75M422.4 134.5h0.75M430.4 128.5h0.75M424.5 138.8h0.75M420.7 133.2h0.75M426.2 131.2h0.75M426.6 122.8h0.75M429.9 130.1h0.75M432.4 127.9h0.75M425.4 140.6h0.75M423.5 130.8h0.75M421.6 128.5h0.75M423.5 134.6h0.75M427.6 130.7h0.75M420.8 134.5h0.75M429.1 132.7h0.75M432.3 130.1h0.75M430.0 134.7h0.75M432.0 143.2h0.75M421.6 121.6h0.75M430.8 135.0h0.75M427.9 130.2h0.75M423.4 140.6h0.75M428.5 129.6h0.75M426.7 134.9h0.75M421.0 129.0h0.75M428.6 133.9h0.75M420.7 135.0h0.75M434.8 136.9h0.75M421.0 130.1h0.75M423.9 128.1h0.75M423.0 129.4h0.75M426.1 125.2h0.75M430.4 135.1h0.75M434.7 138.3h0.75M430.5 136.3h0.75M426.0 126.3h0.75M429.3 133.6h0.75M423.8 135.6h0.75M427.9 129.0h0.75M432.6 130.0h0.75M427.0 139.7h0.75M424.3 131.1h0.75M428.4 131.0h0.75M424.4 126.0h0.75M427.5 130.7h0.75M430.0 139.4h0.75M426.4 137.9h0.75M423.6 143.1h0.75M424.2 132.3h0.75M425.0 130.0h0.75M429.8 133.0h0.75M422.8 137.9h0.75M426.7 136.7h0.75M427.4 130.2h0.75M419.0 131.2h0.75M422.8 140.7h0.75M425.6 142.3h0.75M436.1 140.4h0.75M436.5 127.3h0.75M424.4 126.6h0.75M420.9 125.0h0.75M430.2 128.1h0.75M425.1 136.7h0.75M424.8 142.8h0.75M431.5 137.6h0.75M433.5 136.4h0.75M427.3 140.0h0.75M430.9 124.6h0.75M431.1 139.5h0.75M427.2 141.9h0.75M421.6 134.4h0.75M423.6 127.9h0.75M427.7 124.1h0.75M426.4 137.4h0.75M423.4 126.3h0.75M428.9 138.9h0.75M430.3 129.8h0.75M424.8 141.7h0.75M430.2 135.2h0.75M427.5 132.1h0.75M429.1 137.5h0.75M426.7 134.8h0.75M420.8 132.3h0.75M433.1 134.5h0.75M420.8 130.3h0.75M426.9 142.2h0.75M435.4 132.9h0.75M425.9 134.0h0.75" stroke="#4aa3b5" stroke-width="0.75" stroke-opacity="0.6" fill="none"/>
<path d="M422.3 104.0h0.75M422.1 100.1h0.75M423.3 88.2h0.75M424.5 106.4h0.75M422.1 96.6h0.75M422.9 102.4h0.75M421.7 86.6h0.75M423.4 86.5h0.75M425.6 85.2h0.75M424.1 91.9h0.75M425.6 91.6h0.75M423.7 106.5h0.75M425.0 103.6h0.75M426.3 98.5h0.75M424.5 83.9h0.75M421.3 92.4h0.75M424.5 102.7h0.75M422.8 93.0h0.75M427.3 87.7h0.75M423.7 94.5h0.75M422.9 105.2h0.75M421.5 93.2h0.75M421.4 90.5h0.75M426.5 81.7h0.75M421.4 95.3h0.75M424.6 90.3h0.75M424.7 93.9h0.75M423.4 95.8h0.75M425.9 87.3h0.75M425.4 97.1h0.75M423.7 90.3h0.75M424.5 100.6h0.75M422.5 100.2h0.75M424.1 100.8h0.75M424.4 93.9h0.75M424.3 99.5h0.75M421.7 95.3h0.75M420.2 96.6h0.75M423.2 95.4h0.75M425.6 101.4h0.75M426.3 101.5h0.75M423.7 89.9h0.75M428.1 90.7h0.75M423.4 98.1h0.75M422.7 96.2h0.75M426.7 131.9h0.75M422.5 134.8h0.75M427.4 129.5h0.75M426.5 135.2h0.75M423.0 136.8h0.75M421.4 139.3h0.75M423.6 139.9h0.75M426.3 134.9h0.75M421.5 138.6h0.75M427.5 135.7h0.75M426.1 138.2h0.75M427.6 136.7h0.75M428.9 133.9h0.75M431.5 126.8h0.75M420.5 137.7h0.75M425.9 126.8h0.75M422.0 130.9h0.75M430.3 138.0h0.75M420.4 127.7h0.75M426.5 128.3h0.75M423.9 131.6h0.75M426.2 137.7h0.75M423.6 132.0h0.75M426.9 143.1h0.75M427.4 132.8h0.75M429.2 133.9h0.75M421.4 138.1h0.75M431.5 128.9h0.75M428.6 128.3h0.75M425.7 134.0h0.75M424.8 134.1h0.75M428.3 132.0h0.75M425.2 133.1h0.75M426.9 131.3h0.75M428.7 136.2h0.75M424.0 128.0h0.75M425.1 139.9h0.75M428.2 134.7h0.75M432.8 142.7h0.75M427.8 141.9h0.75M425.2 132.8h0.75M426.8 124.9h0.75M426.1 132.0h0.75M430.6 137.6h0.75M431.3 132.3h0.75M431.0 135.4h0.75M427.8 136.7h0.75M421.8 139.4h0.75M424.5 137.9h0.75M425.9 129.5h0.75M425.0 136.1h0.75M425.0 143.4h0.75M430.1 135.1h0.75M424.8 142.1h0.75M426.2 140.7h0.75M421.4 124.3h0.75M428.6 139.4h0.75M425.5 133.7h0.75M427.6 137.3h0.75M425.8 134.7h0.75M426.8 140.2h0.75M428.4 121.2h0.75M427.2 133.0h0.75M429.7 138.4h0.75M424.3 134.2h0.75M418.2 134.0h0.75M422.3 135.2h0.75M423.6 141.0h0.75M430.4 132.8h0.75M423.0 141.3h0.75M421.5 132.8h0.75M424.7 135.9h0.75M426.2 129.9h0.75M429.0 136.6h0.75M427.1 142.8h0.75M432.4 135.9h0.75M424.7 133.2h0.75M425.6 129.0h0.75M423.7 131.9h0.75M427.8 138.5h0.75M417.7 126.2h0.75M423.9 129.0h0.75M425.9 125.5h0.75M425.2 135.6h0.75M427.3 132.3h0.75M427.4 138.5h0.75M424.8 129.1h0.75M424.3 136.1h0.75M427.0 125.8h0.75M421.0 126.2h0.75M432.1 136.8h0.75M426.6 128.4h0.75M428.1 121.8h0.75M431.5 136.6h0.75M425.9 135.9h0.75M429.1 124.2h0.75M427.0 127.9h0.75M424.6 133.5h0.75M424.6 130.7h0.75M426.6 132.5h0.75M426.9 138.5h0.75M423.1 133.6h0.75M423.1 138.8h0.75M428.5 139.9h0.75M429.6 135.2h0.75M422.6 130.6h0.75M430.1 135.2h0.75M428.7 131.6h0.75M429.3 126.3h0.75M423.7 135.3h0.75M429.6 139.6h0.75M428.9 140.9h0.75M428.4 139.0h0.75M423.1 128.3h0.75M424.3 141.2h0.75M430.6 129.0h0.75M425.1 135.0h0.75M428.0 136.3h0.75M431.0 135.9h0.75M425.3 133.3h0.75M429.7 133.3h0.75M427.8 132.4h0.75M422.1 123.4h0.75M425.0 130.4h0.75M428.8 132.6h0.75M422.9 138.4h0.75M424.5 135.0h0.75M423.4 142.5h0.75M427.0 133.4h0.75M425.7 123.8h0.75M430.3 134.6h0.75M429.9 130.2h0.75M430.9 131.2h0.75M424.3 134.7h0.75M425.5 135.2h0.75M426.5 133.8h0.75M427.5 132.3h0.75M430.5 138.1h0.75M422.2 131.8h0.75M424.9 139.5h0.75M419.5 140.3h0.75M419.4 131.3h0.75M423.1 132.8h0.75M428.7 139.4h0.75M425.6 133.5h0.75M422.7 140.7h0.75M420.7 131.1h0.75M428.3 144.1h0.75M425.0 136.8h0.75M423.9 135.7h0.75M418.9 137.9h0.75M424.2 136.8h0.75M425.6 129.5h0.75M420.8 129.4h0.75M425.9 138.3h0.75M429.8 139.6h0.75M433.0 139.7h0.75M432.1 138.7h0.75M427.1 125.6h0.75M429.3 133.9h0.75M424.7 127.6h0.75M430.3 134.5h0.75M424.6 130.5h0.75M425.7 136.9h0.75M428.0 135.1h0.75M426.7 134.9h0.75M424.6 140.5h0.75M425.5 131.6h0.75M431.8 129.7h0.75M424.5 135.2h0.75M425.4 134.1h0.75M429.3 139.8h0.75M422.0 129.2h0.75M428.3 129.3h0.75M421.9 138.9h0.75M427.7 136.6h0.75M430.8 140.0h0.75M424.4 132.1h0.75M427.4 132.4h0.75M426.9 139.1h0.75M426.9 127.3h0.75M431.6 134.2h0.75M427.2 126.1h0.75M425.9 127.9h0.75M431.4 132.1h0.75M421.3 133.9h0.75M422.9 134.9h0.75M422.8 125.6h0.75M425.4 133.0h0.75M423.3 138.1h0.75M428.9 134.1h0.75M425.7 136.4h0.75M429.1 135.5h0.75M422.2 137.9h0.75M434.0 137.9h0.75M427.1 131.7h0.75M420.8 137.2h0.75M428.0 136.9h0.75M426.5 141.2h0.75M425.6 124.8h0.75M425.5 135.5h0.75M428.6 137.5h0.75M428.4 137.0h0.75M427.0 128.5h0.75M424.9 139.8h0.75M431.5 120.8h0.75M425.5 132.3h0.75M428.9 124.4h0.75M424.1 135.5h0.75M423.3 125.6h0.75M432.3 133.3h0.75M426.2 137.7h0.75M432.4 130.9h0.75M425.5 132.8h0.75M429.2 139.4h0.75M431.3 132.3h0.75M421.9 131.3h0.75M419.6 136.4h0.75M419.0 136.8h0.75M422.4 136.8h0.75M431.0 133.9h0.75M425.5 134.8h0.75M423.9 136.4h0.75M425.1 135.4h0.75M423.2 137.3h0.75M427.1 130.1h0.75M425.7 127.3h0.75M421.2 128.8h0.75M427.3 132.5h0.75M425.8 136.0h0.75" stroke="#5cb860" stroke-width="0.75" stroke-opacity="0.7" fill="none"/>
<g filter="url(#fC)"><ellipse cx="424.2" cy="96" rx="2.2" ry="9" fill="#7cc596" opacity=".28"/><ellipse cx="425.0" cy="131.5" rx="5.4" ry="9.5" fill="#6cc268" opacity=".7"/><ellipse cx="431" cy="139.4" rx="7" ry="3.4" fill="#6cc268" opacity=".55"/><ellipse cx="424.2" cy="134.2" rx="4.8" ry="6.8" fill="#ece43e" opacity=".9"/><ellipse cx="424.4" cy="136.6" rx="3.0" ry="3.6" fill="#f3a21f" opacity=".95"/><ellipse cx="424.7" cy="137.4" rx="1.7" ry="1.9" fill="#e8381c"/></g>
<path d="M450.5 48.3 C448.6 56 446.6 64 445.7 70 S442.8 100 442.0 115.4 L441.4 168.4" fill="none" stroke="#2a2a2a" stroke-width="0.9"/>
<path d="M390.4 115.4 L441.9 115.4 Q481 114.8 512.6 104.6" fill="none" stroke="#2a2a2a" stroke-width="0.9"/>
<rect x="390.4" y="48.3" width="122.2" height="120.1" fill="none" stroke="#111" stroke-width="1.1"/>
<text x="393.8" y="57.8" font-size="10.2" textLength="19.7" lengthAdjust="spacingAndGlyphs" >17.2</text>
<text x="510.2" y="57.4" font-size="10.2" text-anchor="end" textLength="20.2" lengthAdjust="spacingAndGlyphs" >12.2</text>
<text x="393.8" y="166.9" font-size="10.2" textLength="19.4" lengthAdjust="spacingAndGlyphs" >59.6</text>
<text x="508.0" y="166.9" font-size="10.2" text-anchor="end" textLength="7.8" lengthAdjust="spacingAndGlyphs" >11</text>
<path d="M396.4 168.4v3.0M417.4 168.4v3.0M439.4 168.4v3.0M472.4 168.4v3.0M500.4 168.4v3.0M399.9 168.4v1.8M402.4 168.4v1.8M404.4 168.4v1.8M406.0 168.4v1.8M407.4 168.4v1.8M408.9 168.4v1.8M410.3 168.4v1.8M411.8 168.4v1.8M413.2 168.4v1.8M414.7 168.4v1.8M416.1 168.4v1.8M419.0 168.4v1.8M420.5 168.4v1.8M421.9 168.4v1.8M423.4 168.4v1.8M424.8 168.4v1.8M426.3 168.4v1.8M428.9 168.4v1.8M431.4 168.4v1.8M434.0 168.4v1.8M436.8 168.4v1.8M449.3 168.4v1.8M455.1 168.4v1.8M459.3 168.4v1.8M462.5 168.4v1.8M465.1 168.4v1.8M467.3 168.4v1.8M469.2 168.4v1.8M470.9 168.4v1.8M480.8 168.4v1.8M485.8 168.4v1.8M489.3 168.4v1.8M492.0 168.4v1.8M494.2 168.4v1.8M496.1 168.4v1.8M497.7 168.4v1.8M499.1 168.4v1.8M508.8 168.4v1.8" stroke="#161616" stroke-width="0.9" fill="none"/>
<line x1="387.4" y1="59" x2="390.4" y2="59" stroke="#161616" stroke-width="0.9" />
<line x1="387.4" y1="87.2" x2="390.4" y2="87.2" stroke="#161616" stroke-width="0.9" />
<line x1="387.4" y1="118" x2="390.4" y2="118" stroke="#161616" stroke-width="0.9" />
<line x1="387.4" y1="163" x2="390.4" y2="163" stroke="#161616" stroke-width="0.9" />
<line x1="388.59999999999997" y1="78.7" x2="390.4" y2="78.7" stroke="#222" stroke-width="0.8" />
<line x1="388.59999999999997" y1="73.7" x2="390.4" y2="73.7" stroke="#222" stroke-width="0.8" />
<line x1="388.59999999999997" y1="70.2" x2="390.4" y2="70.2" stroke="#222" stroke-width="0.8" />
<line x1="388.59999999999997" y1="67.5" x2="390.4" y2="67.5" stroke="#222" stroke-width="0.8" />
<line x1="388.59999999999997" y1="65.3" x2="390.4" y2="65.3" stroke="#222" stroke-width="0.8" />
<line x1="388.59999999999997" y1="63.4" x2="390.4" y2="63.4" stroke="#222" stroke-width="0.8" />
<line x1="388.59999999999997" y1="61.7" x2="390.4" y2="61.7" stroke="#222" stroke-width="0.8" />
<line x1="388.59999999999997" y1="60.3" x2="390.4" y2="60.3" stroke="#222" stroke-width="0.8" />
<line x1="388.59999999999997" y1="108.7" x2="390.4" y2="108.7" stroke="#222" stroke-width="0.8" />
<line x1="388.59999999999997" y1="103.3" x2="390.4" y2="103.3" stroke="#222" stroke-width="0.8" />
<line x1="388.59999999999997" y1="99.5" x2="390.4" y2="99.5" stroke="#222" stroke-width="0.8" />
<line x1="388.59999999999997" y1="96.5" x2="390.4" y2="96.5" stroke="#222" stroke-width="0.8" />
<line x1="388.59999999999997" y1="94.0" x2="390.4" y2="94.0" stroke="#222" stroke-width="0.8" />
<line x1="388.59999999999997" y1="92.0" x2="390.4" y2="92.0" stroke="#222" stroke-width="0.8" />
<line x1="388.59999999999997" y1="90.2" x2="390.4" y2="90.2" stroke="#222" stroke-width="0.8" />
<line x1="388.59999999999997" y1="88.6" x2="390.4" y2="88.6" stroke="#222" stroke-width="0.8" />
<line x1="388.59999999999997" y1="129.2" x2="390.4" y2="129.2" stroke="#222" stroke-width="0.8" />
<line x1="388.59999999999997" y1="126.4" x2="390.4" y2="126.4" stroke="#222" stroke-width="0.8" />
<line x1="388.59999999999997" y1="124.4" x2="390.4" y2="124.4" stroke="#222" stroke-width="0.8" />
<line x1="388.59999999999997" y1="122.8" x2="390.4" y2="122.8" stroke="#222" stroke-width="0.8" />
<line x1="388.59999999999997" y1="121.5" x2="390.4" y2="121.5" stroke="#222" stroke-width="0.8" />
<line x1="388.59999999999997" y1="120.5" x2="390.4" y2="120.5" stroke="#222" stroke-width="0.8" />
<line x1="388.59999999999997" y1="119.6" x2="390.4" y2="119.6" stroke="#222" stroke-width="0.8" />
<line x1="388.59999999999997" y1="118.7" x2="390.4" y2="118.7" stroke="#222" stroke-width="0.8" />
<line x1="388.59999999999997" y1="134.0" x2="390.4" y2="134.0" stroke="#222" stroke-width="0.8" />
<line x1="388.59999999999997" y1="135.7" x2="390.4" y2="135.7" stroke="#222" stroke-width="0.8" />
<line x1="388.59999999999997" y1="137.4" x2="390.4" y2="137.4" stroke="#222" stroke-width="0.8" />
<line x1="388.59999999999997" y1="139.1" x2="390.4" y2="139.1" stroke="#222" stroke-width="0.8" />
<line x1="388.59999999999997" y1="140.8" x2="390.4" y2="140.8" stroke="#222" stroke-width="0.8" />
<line x1="388.59999999999997" y1="142.5" x2="390.4" y2="142.5" stroke="#222" stroke-width="0.8" />
<line x1="388.59999999999997" y1="144.2" x2="390.4" y2="144.2" stroke="#222" stroke-width="0.8" />
<line x1="388.59999999999997" y1="145.9" x2="390.4" y2="145.9" stroke="#222" stroke-width="0.8" />
<line x1="388.59999999999997" y1="147.6" x2="390.4" y2="147.6" stroke="#222" stroke-width="0.8" />
<line x1="388.59999999999997" y1="149.3" x2="390.4" y2="149.3" stroke="#222" stroke-width="0.8" />
<line x1="382.0" y1="168.8" x2="382.0" y2="125.0" stroke="#111" stroke-width="1.2" />
<path d="M382.0 119.6 L378.4 127.0 L382.0 125.4 L385.6 127.0 Z" fill="#111"/>
<text transform="translate(376.2 167.4) rotate(-90)" font-size="10.5" font-weight="bold" textLength="26.4" lengthAdjust="spacingAndGlyphs" fill="#111">CD45</text>
<line x1="391.2" y1="180.0" x2="434.8" y2="180.0" stroke="#111" stroke-width="1.2" />
<path d="M440.2 180.0 L432.8 176.4 L434.40000000000003 180.0 L432.8 183.6 Z" fill="#111"/>
<text x="390.0" y="192.0" font-size="10.5" font-weight="bold" fill="#111" textLength="37.5" lengthAdjust="spacingAndGlyphs" >Ter-119</text>
<text x="48.7" y="238.7" font-size="10.5" textLength="44.3" lengthAdjust="spacingAndGlyphs" >E10.5 YS</text>
<text x="88.9" y="257.9" font-size="10.6" textLength="26.2" lengthAdjust="spacingAndGlyphs" >CD41</text>
<text x="116.0" y="254.9" font-size="8.4" textLength="5.0" lengthAdjust="spacingAndGlyphs" >+</text>
<text x="121.3" y="257.9" font-size="10.6" textLength="18.7" lengthAdjust="spacingAndGlyphs" >c-kit</text>
<text x="140.5" y="254.9" font-size="8.4" textLength="5.0" lengthAdjust="spacingAndGlyphs" >+</text>
<rect x="56.6" y="262.6" width="121.1" height="120.8" fill="none" stroke="#111" stroke-width="1.1"/>
<path d="M56.6 265.6h-3.6M56.6 273.0h-1.9M56.6 280.4h-1.9M56.6 287.7h-1.9M56.6 295.1h-3.6M56.6 302.5h-1.9M56.6 309.9h-1.9M56.6 317.2h-1.9M56.6 324.6h-3.6M56.6 332.0h-1.9M56.6 339.4h-1.9M56.6 346.7h-1.9M56.6 354.1h-3.6M56.6 361.5h-1.9M56.6 368.9h-1.9M56.6 376.2h-1.9" stroke="#161616" stroke-width="0.9" fill="none"/>
<path d="M62.6 383.6v3.0M83.6 383.6v3.0M105.6 383.6v3.0M138.6 383.6v3.0M166.6 383.6v3.0M66.1 383.6v1.8M68.6 383.6v1.8M70.6 383.6v1.8M72.2 383.6v1.8M73.6 383.6v1.8M75.1 383.6v1.8M76.5 383.6v1.8M78.0 383.6v1.8M79.5 383.6v1.8M80.9 383.6v1.8M82.3 383.6v1.8M85.2 383.6v1.8M86.7 383.6v1.8M88.1 383.6v1.8M89.6 383.6v1.8M91.0 383.6v1.8M92.5 383.6v1.8M95.1 383.6v1.8M97.6 383.6v1.8M100.2 383.6v1.8M103.0 383.6v1.8M115.5 383.6v1.8M121.3 383.6v1.8M125.5 383.6v1.8M128.7 383.6v1.8M131.3 383.6v1.8M133.5 383.6v1.8M135.4 383.6v1.8M137.1 383.6v1.8M147.0 383.6v1.8M152.0 383.6v1.8M155.5 383.6v1.8M158.2 383.6v1.8M160.4 383.6v1.8M162.3 383.6v1.8M163.9 383.6v1.8M165.3 383.6v1.8M175.0 383.6v1.8" stroke="#161616" stroke-width="0.9" fill="none"/>
<polyline points="57.0,383.2 108.0,383.2 115.8,382.8 121.0,381.7 127.9,381.0 130.5,378.9 133.9,378.7 138.3,376.2 142.6,371.9 146.9,366.8 150.4,361.6 153.0,356.5 155.1,350.5 156.4,341.9 157.3,330.0 158.5,316.2 159.9,303.4 161.6,297.4 162.8,291.4 163.9,289.2 165.1,292.2 166.3,300.9 167.7,306.0 169.4,310.3 170.6,318.0 171.7,330.0 172.9,338.5 174.3,347.1 175.5,352.2 177.4,355.3" fill="none" stroke="#111" stroke-width="1.5" stroke-linejoin="round" stroke-linecap="round"/>
<polyline points="98.0,383.2 105.4,382.6 110.6,380.4 114.0,377.6 117.5,376.2 121.0,373.6 126.2,372.4 131.3,370.7 134.8,367.7 137.4,365.1 140.0,359.9 142.6,356.5 144.3,350.5 146.1,341.9 147.8,333.3 149.2,321.3 150.0,309.4 150.7,293.9 151.4,286.8 153.0,289.7 154.2,293.9 155.2,298.3 156.1,305.1 157.0,316.2 158.2,331.6 159.4,348.8 160.4,364.2 161.6,374.5 163.4,380.4 166.0,382.5 170.0,383.1" fill="none" stroke="#b01030" stroke-width="1.5" stroke-linejoin="round" stroke-linecap="round"/>
<line x1="45.2" y1="383.5" x2="45.2" y2="332.4" stroke="#111" stroke-width="1.2" />
<path d="M45.2 327 L41.6 334.4 L45.2 332.79999999999995 L48.800000000000004 334.4 Z" fill="#111"/>
<text transform="translate(39.3 382.6) rotate(-90)" font-size="10.5" font-weight="bold" textLength="53" lengthAdjust="spacingAndGlyphs" fill="#111">Cell Count</text>
<line x1="56.3" y1="397.5" x2="104.19999999999999" y2="397.5" stroke="#111" stroke-width="1.2" />
<path d="M109.6 397.5 L102.19999999999999 393.9 L103.79999999999998 397.5 L102.19999999999999 401.1 Z" fill="#111"/>
<text x="56.3" y="410.4" font-size="10.7" fill="#111"><tspan font-size="11">α</tspan><tspan dx="1.4" font-weight="bold">4-integrin</tspan></text>
<text x="113.4" y="426.2" font-size="10.5" text-anchor="middle" textLength="14.6" lengthAdjust="spacingAndGlyphs" >MFI</text>
<line x1="47.7" y1="448.3" x2="178.6" y2="448.3" stroke="#111" stroke-width="1" />
<line x1="48.2" y1="448.3" x2="48.2" y2="503.5" stroke="#111" stroke-width="1" />
<line x1="111.7" y1="444.3" x2="111.7" y2="448.3" stroke="#111" stroke-width="1" />
<text x="111.9" y="439.90000000000003" font-size="8.6" text-anchor="middle" textLength="26.8" lengthAdjust="spacingAndGlyphs" >50 000</text>
<line x1="175.4" y1="444.3" x2="175.4" y2="448.3" stroke="#111" stroke-width="1" />
<text x="175.6" y="439.90000000000003" font-size="8.6" text-anchor="middle" textLength="31.6" lengthAdjust="spacingAndGlyphs" >100 000</text>
<rect x="48.20" y="455.20" width="95.20" height="19.00" fill="#231f20" />
<rect x="48.20" y="474.20" width="57.80" height="20.20" fill="#a9082c" />
<line x1="142.9" y1="464.59999999999997" x2="152.6" y2="464.59999999999997" stroke="#111" stroke-width="1" />
<line x1="152.6" y1="461.2" x2="152.6" y2="467.99999999999994" stroke="#111" stroke-width="1" />
<line x1="105.5" y1="481.472" x2="114.0" y2="481.472" stroke="#111" stroke-width="1" />
<line x1="114.0" y1="479.072" x2="114.0" y2="483.87199999999996" stroke="#111" stroke-width="1" />
<text x="118.6" y="485.67199999999997" font-size="8" text-anchor="middle" >*</text>
<text x="215.6" y="239.1" font-size="10.5" textLength="44.6" lengthAdjust="spacingAndGlyphs" >E10.5 YS</text>
<rect x="272.30" y="231.40" width="8.90" height="9.00" fill="#231f20" />
<text x="284.8" y="238.8" font-size="8.7" textLength="12.5" lengthAdjust="spacingAndGlyphs" >WT</text>
<rect x="309.40" y="231.40" width="9.20" height="9.00" fill="#a9082c" />
<text x="322.8" y="240.2" font-size="8.7" font-style="italic" textLength="26" lengthAdjust="spacingAndGlyphs">Vc<tspan font-size="6.4" dy="-3.1">iΔR26</tspan></text>
<text x="252.0" y="257.9" font-size="10.6" textLength="24.8" lengthAdjust="spacingAndGlyphs" >CD71</text>
<text x="276.8" y="254.4" font-size="7.6" textLength="15.2" lengthAdjust="spacingAndGlyphs" >mid</text>
<text x="294.0" y="257.9" font-size="10.6" textLength="35.8" lengthAdjust="spacingAndGlyphs" >Ter-119</text>
<text x="330.4" y="254.6" font-size="8.4" >-</text>
<rect x="231.4" y="263.6" width="123.2" height="120.2" fill="none" stroke="#111" stroke-width="1.1"/>
<path d="M231.4 266.9h-3.6M231.4 276.6h-1.9M231.4 286.4h-1.9M231.4 296.1h-1.9M231.4 305.8h-3.6M231.4 315.6h-1.9M231.4 325.3h-1.9M231.4 335.1h-1.9M231.4 344.8h-3.6M231.4 354.5h-1.9M231.4 364.3h-1.9M231.4 374.0h-1.9" stroke="#161616" stroke-width="0.9" fill="none"/>
<path d="M237.5 384.0v3.0M258.7 384.0v3.0M280.9 384.0v3.0M314.2 384.0v3.0M342.5 384.0v3.0M241.0 384.0v1.8M243.5 384.0v1.8M245.5 384.0v1.8M247.2 384.0v1.8M248.6 384.0v1.8M250.1 384.0v1.8M251.5 384.0v1.8M253.0 384.0v1.8M254.5 384.0v1.8M255.9 384.0v1.8M257.4 384.0v1.8M260.3 384.0v1.8M261.8 384.0v1.8M263.3 384.0v1.8M264.7 384.0v1.8M266.2 384.0v1.8M267.7 384.0v1.8M270.3 384.0v1.8M272.8 384.0v1.8M275.4 384.0v1.8M278.3 384.0v1.8M290.9 384.0v1.8M296.8 384.0v1.8M301.0 384.0v1.8M304.2 384.0v1.8M306.8 384.0v1.8M309.1 384.0v1.8M311.0 384.0v1.8M312.7 384.0v1.8M322.7 384.0v1.8M327.7 384.0v1.8M331.2 384.0v1.8M334.0 384.0v1.8M336.2 384.0v1.8M338.1 384.0v1.8M339.8 384.0v1.8M341.2 384.0v1.8M351.0 384.0v1.8" stroke="#161616" stroke-width="0.9" fill="none"/>
<line x1="241.4" y1="274.3" x2="250.8" y2="274.3" stroke="#111" stroke-width="1.5" />
<text x="255.0" y="277.0" font-size="8.7" textLength="12" lengthAdjust="spacingAndGlyphs" >WT</text>
<line x1="241.4" y1="287.4" x2="250.8" y2="287.4" stroke="#b01030" stroke-width="1.5" />
<text x="254.6" y="289.7" font-size="8.7" font-style="italic" textLength="27.5" lengthAdjust="spacingAndGlyphs">Vc<tspan font-size="6.4" dy="-3.1">iΔR26</tspan></text>
<polyline points="232.0,383.7 252.0,383.5 258.6,382.5 267.6,380.4 274.8,379.5 280.2,378.6 284.7,376.7 287.4,374.1 290.1,370.5 292.8,371.0 295.4,369.2 298.1,370.5 299.9,366.9 302.6,366.0 305.3,364.2 308.0,360.6 310.7,355.2 312.5,348.0 314.3,337.2 316.1,322.8 317.9,308.4 319.7,297.7 321.2,291.4 323.0,293.2 324.2,296.8 326.0,302.1 327.8,308.4 329.1,314.7 330.5,314.7 331.9,322.8 333.6,330.0 335.0,339.0 335.9,355.2 336.8,373.2 337.7,383.3" fill="none" stroke="#111" stroke-width="1.55" stroke-linejoin="round" stroke-linecap="round"/>
<polyline points="232.0,383.7 252.0,383.5 258.6,382.5 265.8,380.7 273.0,379.5 278.4,378.6 283.8,376.7 287.4,372.3 289.2,362.4 291.0,344.4 292.8,324.6 294.6,306.6 296.3,286.9 298.1,276.1 299.4,269.8 300.5,278.8 302.1,279.7 303.5,288.7 305.3,294.1 307.1,300.4 308.9,308.4 310.7,315.6 312.5,321.9 314.3,330.0 316.1,336.3 318.8,339.0 320.6,346.2 323.0,349.8 324.2,358.8 326.0,367.8 328.7,373.2 331.4,376.8 334.1,380.4 336.8,383.4" fill="none" stroke="#b01030" stroke-width="1.55" stroke-linejoin="round" stroke-linecap="round"/>
<text x="406.4" y="257.9" font-size="10.6" textLength="25.0" lengthAdjust="spacingAndGlyphs" >CD71</text>
<text x="433.4" y="253.6" font-size="7.6" textLength="6.8" lengthAdjust="spacingAndGlyphs" >hi</text>
<text x="440.8" y="257.9" font-size="10.6" textLength="35.4" lengthAdjust="spacingAndGlyphs" >Ter-119</text>
<text x="476.8" y="254.6" font-size="8.4" textLength="5.6" lengthAdjust="spacingAndGlyphs" >+</text>
<rect x="385.5" y="263.2" width="118.3" height="119.8" fill="none" stroke="#111" stroke-width="1.1"/>
<path d="M385.5 275.2h-3.6M385.5 282.0h-1.9M385.5 288.8h-1.9M385.5 295.5h-1.9M385.5 302.3h-3.6M385.5 309.1h-1.9M385.5 315.9h-1.9M385.5 322.6h-1.9M385.5 329.4h-3.6M385.5 336.2h-1.9M385.5 343.0h-1.9M385.5 349.7h-1.9M385.5 356.5h-3.6M385.5 363.3h-1.9M385.5 370.1h-1.9M385.5 376.8h-1.9" stroke="#161616" stroke-width="0.9" fill="none"/>
<path d="M385.5 268.4h-1.9" stroke="#1c1c1c" stroke-width="0.75"/>
<path d="M391.3 383.2v3.0M411.6 383.2v3.0M432.9 383.2v3.0M464.9 383.2v3.0M492.0 383.2v3.0M394.7 383.2v1.8M397.1 383.2v1.8M399.1 383.2v1.8M400.6 383.2v1.8M402.0 383.2v1.8M403.4 383.2v1.8M404.8 383.2v1.8M406.2 383.2v1.8M407.6 383.2v1.8M409.0 383.2v1.8M410.4 383.2v1.8M413.2 383.2v1.8M414.6 383.2v1.8M416.0 383.2v1.8M417.4 383.2v1.8M418.8 383.2v1.8M420.3 383.2v1.8M422.8 383.2v1.8M425.2 383.2v1.8M427.7 383.2v1.8M430.4 383.2v1.8M442.5 383.2v1.8M448.2 383.2v1.8M452.2 383.2v1.8M455.3 383.2v1.8M457.8 383.2v1.8M459.9 383.2v1.8M461.8 383.2v1.8M463.4 383.2v1.8M473.0 383.2v1.8M477.8 383.2v1.8M481.2 383.2v1.8M483.8 383.2v1.8M486.0 383.2v1.8M487.8 383.2v1.8M489.4 383.2v1.8M490.7 383.2v1.8M500.1 383.2v1.8" stroke="#161616" stroke-width="0.9" fill="none"/>
<polyline points="386.0,382.6 405.5,382.6 407.8,381.6 409.2,373.6 410.4,349.6 411.4,317.6 412.2,297.6 412.8,291.2 413.4,297.6 414.3,317.6 415.3,337.6 416.6,353.6 418.2,363.6 420.2,369.2 423.3,375.4 426.4,378.5 431.0,380.1 435.6,380.8 441.8,381.6 455.0,381.8 470.0,381.6 480.0,380.8 486.2,379.9 493.0,380.9 503.6,382.0" fill="none" stroke="#b01030" stroke-width="1.7" stroke-linejoin="round" stroke-linecap="round"/>
<polyline points="386.0,382.6 405.0,382.6 407.6,381.8 409.0,375.6 410.2,355.6 411.3,329.6 412.2,311.6 412.8,306.6 413.5,311.6 414.5,329.6 415.6,345.6 417.0,357.6 418.6,365.6 420.5,370.8 424.0,373.9 427.1,374.6 429.1,376.2 431.0,379.3 434.1,380.8 438.0,380.1 441.8,381.3 449.2,381.4 455.4,380.4 463.0,381.1 466.2,379.6 472.3,378.8 476.9,379.9 481.5,378.1 485.4,377.0 487.7,374.2 490.0,370.4 491.5,368.5 493.1,371.1 495.1,372.2 497.2,371.9 499.2,375.0 500.8,376.5 502.3,375.3 503.6,374.7" fill="none" stroke="#111" stroke-width="1.5" stroke-linejoin="round" stroke-linecap="round"/>
<text x="286.9" y="426.29999999999995" font-size="10.5" text-anchor="middle" textLength="14.6" lengthAdjust="spacingAndGlyphs" >MFI</text>
<line x1="221.4" y1="448.4" x2="347" y2="448.4" stroke="#111" stroke-width="1" />
<line x1="221.9" y1="448.4" x2="221.9" y2="505.5" stroke="#111" stroke-width="1" />
<line x1="262.9" y1="445.2" x2="262.9" y2="448.4" stroke="#111" stroke-width="1" />
<text x="263.09999999999997" y="440.0" font-size="8.6" text-anchor="middle" textLength="21.4" lengthAdjust="spacingAndGlyphs" >6 000</text>
<line x1="303.2" y1="445.2" x2="303.2" y2="448.4" stroke="#111" stroke-width="1" />
<text x="303.4" y="440.0" font-size="8.6" text-anchor="middle" textLength="25.4" lengthAdjust="spacingAndGlyphs" >12 000</text>
<line x1="343.8" y1="445.2" x2="343.8" y2="448.4" stroke="#111" stroke-width="1" />
<text x="344.0" y="440.0" font-size="8.6" text-anchor="middle" textLength="25.8" lengthAdjust="spacingAndGlyphs" >18 000</text>
<rect x="221.90" y="455.50" width="104.20" height="20.20" fill="#231f20" />
<rect x="221.90" y="475.70" width="60.30" height="21.30" fill="#a9082c" />
<line x1="325.6" y1="465.5" x2="328.90000000000003" y2="465.5" stroke="#111" stroke-width="1" />
<line x1="328.90000000000003" y1="463.3" x2="328.90000000000003" y2="467.7" stroke="#111" stroke-width="1" />
<line x1="281.7" y1="484.433" x2="285.2" y2="484.433" stroke="#111" stroke-width="1" />
<line x1="285.2" y1="482.633" x2="285.2" y2="486.233" stroke="#111" stroke-width="1" />
<text x="290.4" y="488.633" font-size="8" text-anchor="middle" >*</text>
<text x="441.0" y="425.9" font-size="10.5" text-anchor="middle" textLength="14.6" lengthAdjust="spacingAndGlyphs" >MFI</text>
<line x1="375.3" y1="448.0" x2="505.2" y2="448.0" stroke="#111" stroke-width="1" />
<line x1="375.8" y1="448.0" x2="375.8" y2="505.4" stroke="#111" stroke-width="1" />
<line x1="439.5" y1="444.8" x2="439.5" y2="448.0" stroke="#111" stroke-width="1" />
<text x="439.7" y="439.6" font-size="8.6" text-anchor="middle" textLength="18.5" lengthAdjust="spacingAndGlyphs" >2000</text>
<line x1="502.7" y1="444.8" x2="502.7" y2="448.0" stroke="#111" stroke-width="1" />
<text x="502.9" y="439.6" font-size="8.6" text-anchor="middle" textLength="18.5" lengthAdjust="spacingAndGlyphs" >4000</text>
<rect x="375.80" y="455.60" width="72.10" height="20.00" fill="#231f20" />
<rect x="375.80" y="475.60" width="16.00" height="21.40" fill="#a9082c" />
<line x1="447.4" y1="465.5" x2="470.79999999999995" y2="465.5" stroke="#111" stroke-width="1" />
<line x1="470.79999999999995" y1="462.9" x2="470.79999999999995" y2="468.1" stroke="#111" stroke-width="1" />
<line x1="391.3" y1="486.942" x2="394.8" y2="486.942" stroke="#111" stroke-width="1" />
<line x1="394.8" y1="485.04200000000003" x2="394.8" y2="488.842" stroke="#111" stroke-width="1" />
<text x="400.2" y="491.142" font-size="8" text-anchor="middle" >*</text>
<text x="42.3" y="549.8" font-size="10" textLength="26" lengthAdjust="spacingAndGlyphs" >E10.5</text>
<line x1="42.6" y1="557.6" x2="42.6" y2="688.4" stroke="#111" stroke-width="1" />
<line x1="42.1" y1="687.9" x2="152.0" y2="687.9" stroke="#111" stroke-width="1" />
<line x1="39.2" y1="561.0" x2="42.6" y2="561.0" stroke="#111" stroke-width="1" />
<text x="36.300000000000004" y="564.0" font-size="8.4" text-anchor="end" >1.5</text>
<line x1="39.2" y1="603.1" x2="42.6" y2="603.1" stroke="#111" stroke-width="1" />
<text x="36.300000000000004" y="606.1" font-size="8.4" text-anchor="end" >1.0</text>
<line x1="39.2" y1="645.6" x2="42.6" y2="645.6" stroke="#111" stroke-width="1" />
<text x="36.300000000000004" y="648.6" font-size="8.4" text-anchor="end" >0.5</text>
<line x1="96.3" y1="687.9" x2="96.3" y2="691.3" stroke="#111" stroke-width="1" />
<line x1="64.9" y1="591.5" x2="64.9" y2="601.3" stroke="#111" stroke-width="1.2" />
<line x1="61.900000000000006" y1="591.5" x2="67.9" y2="591.5" stroke="#111" stroke-width="1.2" />
<rect x="55.90" y="600.80" width="18.00" height="87.10" fill="#231f20" />
<line x1="82.9" y1="569.4" x2="82.9" y2="582.3" stroke="#111" stroke-width="1.2" />
<line x1="79.9" y1="569.4" x2="85.9" y2="569.4" stroke="#111" stroke-width="1.2" />
<rect x="73.90" y="581.80" width="18.00" height="106.10" fill="#a9082c" />
<line x1="112.69999999999999" y1="590.8" x2="112.69999999999999" y2="600.5" stroke="#111" stroke-width="1.2" />
<line x1="109.69999999999999" y1="590.8" x2="115.69999999999999" y2="590.8" stroke="#111" stroke-width="1.2" />
<rect x="103.80" y="600.00" width="17.80" height="87.90" fill="#231f20" />
<line x1="130.45" y1="630.2" x2="130.45" y2="637.3" stroke="#111" stroke-width="1.2" />
<line x1="127.44999999999999" y1="630.2" x2="133.45" y2="630.2" stroke="#111" stroke-width="1.2" />
<rect x="121.60" y="636.80" width="17.70" height="51.10" fill="#a9082c" />
<text x="73.7" y="703.0" font-size="8.5" text-anchor="middle" textLength="29.6" lengthAdjust="spacingAndGlyphs" >Embryo</text>
<text x="121.6" y="703.0" font-size="8.5" text-anchor="middle" textLength="10.4" lengthAdjust="spacingAndGlyphs" >YS</text>
<text transform="translate(17.5 655.4) rotate(-90)" font-size="10" textLength="65.5" lengthAdjust="spacingAndGlyphs"><tspan font-style="italic">Itga4</tspan> RNA level</text>
<text x="130.4" y="628.4" font-size="8.5" text-anchor="middle" >*</text>
<line x1="196.3" y1="558.0" x2="196.3" y2="688.7" stroke="#111" stroke-width="1" />
<line x1="195.8" y1="688.2" x2="304.8" y2="688.2" stroke="#111" stroke-width="1" />
<line x1="192.9" y1="560.9" x2="196.3" y2="560.9" stroke="#111" stroke-width="1" />
<text x="190.0" y="563.9" font-size="8.4" text-anchor="end" >2</text>
<line x1="192.9" y1="624.5" x2="196.3" y2="624.5" stroke="#111" stroke-width="1" />
<text x="190.0" y="627.5" font-size="8.4" text-anchor="end" >1</text>
<line x1="250.0" y1="688.2" x2="250.0" y2="691.6" stroke="#111" stroke-width="1" />
<line x1="218.14999999999998" y1="618.7" x2="218.14999999999998" y2="625.0" stroke="#111" stroke-width="1.2" />
<line x1="215.14999999999998" y1="618.7" x2="221.14999999999998" y2="618.7" stroke="#111" stroke-width="1.2" />
<rect x="209.60" y="624.50" width="17.10" height="63.70" fill="#231f20" />
<line x1="235.35" y1="572.3" x2="235.35" y2="596.7" stroke="#111" stroke-width="1.2" />
<line x1="232.35" y1="572.3" x2="238.35" y2="572.3" stroke="#111" stroke-width="1.2" />
<rect x="226.70" y="596.20" width="17.30" height="92.00" fill="#a9082c" />
<line x1="267.0" y1="616.2" x2="267.0" y2="622.5" stroke="#111" stroke-width="1.2" />
<line x1="264.0" y1="616.2" x2="270.0" y2="616.2" stroke="#111" stroke-width="1.2" />
<rect x="258.70" y="622.00" width="16.60" height="66.20" fill="#231f20" />
<line x1="283.95000000000005" y1="596.1" x2="283.95000000000005" y2="608.7" stroke="#111" stroke-width="1.2" />
<line x1="280.95000000000005" y1="596.1" x2="286.95000000000005" y2="596.1" stroke="#111" stroke-width="1.2" />
<rect x="275.30" y="608.20" width="17.30" height="80.00" fill="#a9082c" />
<text x="227.2" y="703.0" font-size="8.5" text-anchor="middle" textLength="29.6" lengthAdjust="spacingAndGlyphs" >Embryo</text>
<text x="275.2" y="703.0" font-size="8.5" text-anchor="middle" textLength="10.4" lengthAdjust="spacingAndGlyphs" >YS</text>
<text transform="translate(177.6 655.4) rotate(-90)" font-size="10" textLength="65.5" lengthAdjust="spacingAndGlyphs"><tspan font-style="italic">Itgb1</tspan> RNA level</text>
<text x="250.0" y="566.0" font-size="8" text-anchor="middle" textLength="10.6" lengthAdjust="spacingAndGlyphs" >NS</text>
<line x1="357.8" y1="558.0" x2="357.8" y2="688.9" stroke="#111" stroke-width="1" />
<line x1="357.3" y1="688.4" x2="466.8" y2="688.4" stroke="#111" stroke-width="1" />
<line x1="354.40000000000003" y1="561.0" x2="357.8" y2="561.0" stroke="#111" stroke-width="1" />
<text x="351.5" y="564.0" font-size="8.4" text-anchor="end" >1.5</text>
<line x1="354.40000000000003" y1="603.3" x2="357.8" y2="603.3" stroke="#111" stroke-width="1" />
<text x="351.5" y="606.3" font-size="8.4" text-anchor="end" >1.0</text>
<line x1="354.40000000000003" y1="645.8" x2="357.8" y2="645.8" stroke="#111" stroke-width="1" />
<text x="351.5" y="648.8" font-size="8.4" text-anchor="end" >0.5</text>
<line x1="409.8" y1="688.4" x2="409.8" y2="691.8" stroke="#111" stroke-width="1" />
<line x1="379.1" y1="592.5" x2="379.1" y2="601.2" stroke="#111" stroke-width="1.2" />
<line x1="376.1" y1="592.5" x2="382.1" y2="592.5" stroke="#111" stroke-width="1.2" />
<rect x="370.60" y="600.70" width="17.00" height="87.70" fill="#231f20" />
<line x1="396.20000000000005" y1="594.5" x2="396.20000000000005" y2="605.2" stroke="#111" stroke-width="1.2" />
<line x1="393.20000000000005" y1="594.5" x2="399.20000000000005" y2="594.5" stroke="#111" stroke-width="1.2" />
<rect x="387.60" y="604.70" width="17.20" height="83.70" fill="#a9082c" />
<line x1="429.55" y1="589.7" x2="429.55" y2="601.2" stroke="#111" stroke-width="1.2" />
<line x1="426.55" y1="589.7" x2="432.55" y2="589.7" stroke="#111" stroke-width="1.2" />
<rect x="421.10" y="600.70" width="16.90" height="87.70" fill="#231f20" />
<line x1="446.3" y1="589.7" x2="446.3" y2="605.3" stroke="#111" stroke-width="1.2" />
<line x1="443.3" y1="589.7" x2="449.3" y2="589.7" stroke="#111" stroke-width="1.2" />
<rect x="438.00" y="604.80" width="16.60" height="83.60" fill="#a9082c" />
<text x="388.2" y="703.0" font-size="8.5" text-anchor="middle" textLength="29.6" lengthAdjust="spacingAndGlyphs" >Embryo</text>
<text x="436.7" y="703.0" font-size="8.5" text-anchor="middle" textLength="10.4" lengthAdjust="spacingAndGlyphs" >YS</text>
<text transform="translate(331.0 655.4) rotate(-90)" font-size="10" textLength="65.5" lengthAdjust="spacingAndGlyphs"><tspan font-style="italic">Itga5</tspan> RNA level</text>
<text x="409.6" y="566.2" font-size="8" text-anchor="middle" textLength="10.6" lengthAdjust="spacingAndGlyphs" >NS</text>
<rect x="465.80" y="573.80" width="11.60" height="10.40" fill="#231f20" />
<rect x="465.80" y="588.90" width="11.80" height="10.60" fill="#a9082c" />
<text x="482.2" y="582.0" font-size="8.6" font-weight="bold" textLength="12.4" lengthAdjust="spacingAndGlyphs" >WT</text>
<text x="481.6" y="598.2" font-size="8.7" font-style="italic" textLength="26.2" lengthAdjust="spacingAndGlyphs">Vc<tspan font-size="6.4" dy="-3.1">iΔR26</tspan></text>
</g>
<rect x="0.5" y="0.5" width="519" height="711" fill="none" stroke="#111" stroke-width="1"/>
</svg>
</body></html>
